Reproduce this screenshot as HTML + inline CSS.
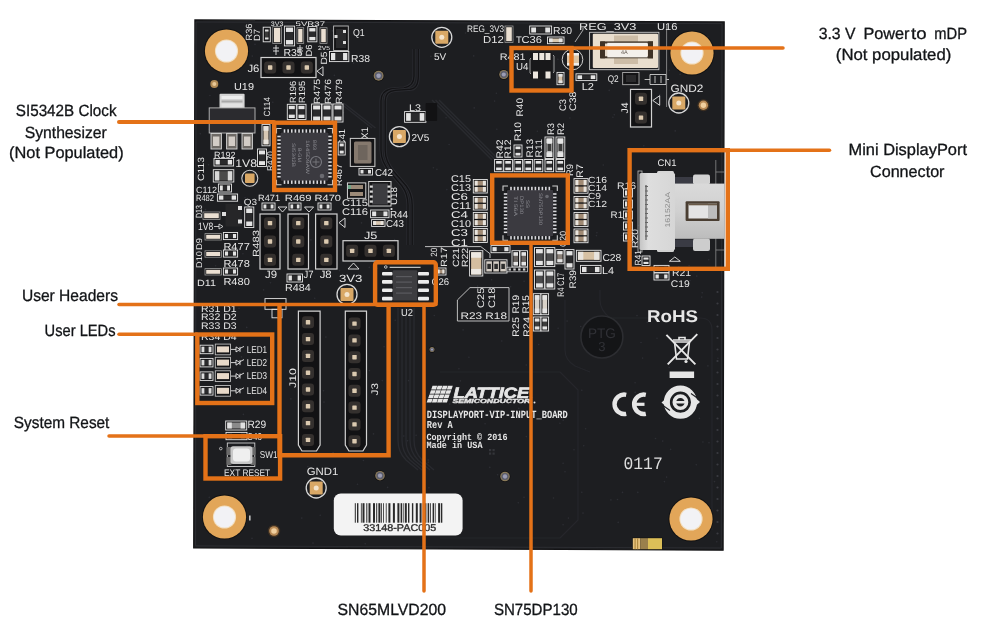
<!DOCTYPE html>
<html><head><meta charset="utf-8"><style>
html,body{margin:0;padding:0;background:#fff;width:987px;height:621px;overflow:hidden}
svg{display:block;will-change:transform} text{text-rendering:geometricPrecision}
</style></head><body>
<svg width="987" height="621" viewBox="0 0 987 621">
<rect width="987" height="621" fill="#ffffff"/>
<g id="board">
<path d="M194.9 19.9 L724.2 21.9 L723.1 550.2 L193.7 547.9 Z" fill="#1d1e21" stroke="#141416" stroke-width="1.2"/>
<path d="M196 22 L722 23.6 L721.3 548 L195.6 545.9 Z" fill="none" stroke="#303136" stroke-width="0.8"/>
<circle cx="434.3" cy="315.5" r="0.8" fill="#2d2e34"/>
<circle cx="678.7" cy="266.7" r="0.8" fill="#2d2e34"/>
<circle cx="463.1" cy="329.9" r="0.8" fill="#2d2e34"/>
<circle cx="295.7" cy="290.7" r="0.8" fill="#2d2e34"/>
<circle cx="526.3" cy="436.6" r="0.8" fill="#2d2e34"/>
<circle cx="248.8" cy="182.5" r="0.8" fill="#2d2e34"/>
<circle cx="247.0" cy="445.2" r="0.8" fill="#2d2e34"/>
<circle cx="559.2" cy="46.7" r="0.8" fill="#2d2e34"/>
<circle cx="708.8" cy="525.7" r="0.8" fill="#2d2e34"/>
<circle cx="538.7" cy="344.5" r="0.8" fill="#2d2e34"/>
<circle cx="281.6" cy="32.8" r="0.8" fill="#2d2e34"/>
<circle cx="473.7" cy="55.9" r="0.8" fill="#2d2e34"/>
<circle cx="298.5" cy="150.6" r="0.8" fill="#2d2e34"/>
<circle cx="215.6" cy="265.8" r="0.8" fill="#2d2e34"/>
<circle cx="428.2" cy="462.2" r="0.8" fill="#2d2e34"/>
<circle cx="468.9" cy="357.3" r="0.8" fill="#2d2e34"/>
<circle cx="458.9" cy="368.8" r="0.8" fill="#2d2e34"/>
<circle cx="436.9" cy="169.4" r="0.8" fill="#2d2e34"/>
<circle cx="716.8" cy="541.8" r="0.8" fill="#2d2e34"/>
<circle cx="635.2" cy="392.4" r="0.8" fill="#2d2e34"/>
<circle cx="363.3" cy="144.2" r="0.8" fill="#2d2e34"/>
<circle cx="349.7" cy="61.4" r="0.8" fill="#2d2e34"/>
<circle cx="596.9" cy="232.8" r="0.8" fill="#2d2e34"/>
<circle cx="638.5" cy="225.6" r="0.8" fill="#2d2e34"/>
<circle cx="696.3" cy="464.8" r="0.8" fill="#2d2e34"/>
<circle cx="200.3" cy="133.8" r="0.8" fill="#2d2e34"/>
<circle cx="671.5" cy="268.9" r="0.8" fill="#2d2e34"/>
<circle cx="707.8" cy="231.3" r="0.8" fill="#2d2e34"/>
<circle cx="237.8" cy="351.7" r="0.8" fill="#2d2e34"/>
<circle cx="603.3" cy="165.0" r="0.8" fill="#2d2e34"/>
<circle cx="245.1" cy="197.6" r="0.8" fill="#2d2e34"/>
<circle cx="699.4" cy="418.4" r="0.8" fill="#2d2e34"/>
<circle cx="261.1" cy="152.9" r="0.8" fill="#2d2e34"/>
<circle cx="252.3" cy="56.1" r="0.8" fill="#2d2e34"/>
<circle cx="612.9" cy="117.2" r="0.8" fill="#2d2e34"/>
<circle cx="489.7" cy="257.2" r="0.8" fill="#2d2e34"/>
<circle cx="298.8" cy="404.9" r="0.8" fill="#2d2e34"/>
<circle cx="267.8" cy="359.1" r="0.8" fill="#2d2e34"/>
<circle cx="260.4" cy="243.4" r="0.8" fill="#2d2e34"/>
<circle cx="310.3" cy="165.0" r="0.8" fill="#2d2e34"/>
<circle cx="702.9" cy="442.0" r="0.8" fill="#2d2e34"/>
<circle cx="357.5" cy="484.2" r="0.8" fill="#2d2e34"/>
<circle cx="309.1" cy="229.6" r="0.8" fill="#2d2e34"/>
<circle cx="642.6" cy="358.1" r="0.8" fill="#2d2e34"/>
<circle cx="252.0" cy="538.4" r="0.8" fill="#2d2e34"/>
<circle cx="310.5" cy="159.0" r="0.8" fill="#2d2e34"/>
<circle cx="600.3" cy="195.7" r="0.8" fill="#2d2e34"/>
<circle cx="353.5" cy="63.1" r="0.8" fill="#2d2e34"/>
<circle cx="246.7" cy="327.4" r="0.8" fill="#2d2e34"/>
<circle cx="325.9" cy="337.1" r="0.8" fill="#2d2e34"/>
<circle cx="392.5" cy="260.2" r="0.8" fill="#2d2e34"/>
<circle cx="696.8" cy="276.1" r="0.8" fill="#2d2e34"/>
<circle cx="497.6" cy="474.7" r="0.8" fill="#2d2e34"/>
<circle cx="294.7" cy="105.0" r="0.8" fill="#2d2e34"/>
<circle cx="670.6" cy="449.4" r="0.8" fill="#2d2e34"/>
<circle cx="329.2" cy="123.5" r="0.8" fill="#2d2e34"/>
<circle cx="583.0" cy="513.1" r="0.8" fill="#2d2e34"/>
<circle cx="301.8" cy="518.1" r="0.8" fill="#2d2e34"/>
<circle cx="657.0" cy="338.2" r="0.8" fill="#2d2e34"/>
<circle cx="418.3" cy="78.9" r="0.8" fill="#2d2e34"/>
<circle cx="220.0" cy="524.6" r="0.8" fill="#2d2e34"/>
<circle cx="323.5" cy="390.7" r="0.8" fill="#2d2e34"/>
<circle cx="333.1" cy="452.5" r="0.8" fill="#2d2e34"/>
<circle cx="509.0" cy="177.3" r="0.8" fill="#2d2e34"/>
<circle cx="290.9" cy="398.9" r="0.8" fill="#2d2e34"/>
<circle cx="235.6" cy="143.5" r="0.8" fill="#2d2e34"/>
<circle cx="489.8" cy="467.4" r="0.8" fill="#2d2e34"/>
<circle cx="518.2" cy="170.4" r="0.8" fill="#2d2e34"/>
<circle cx="675.2" cy="130.9" r="0.8" fill="#2d2e34"/>
<circle cx="208.6" cy="164.7" r="0.8" fill="#2d2e34"/>
<circle cx="430.9" cy="56.4" r="0.8" fill="#2d2e34"/>
<circle cx="291.3" cy="216.4" r="0.8" fill="#2d2e34"/>
<circle cx="496.4" cy="93.3" r="0.8" fill="#2d2e34"/>
<circle cx="387.6" cy="487.4" r="0.8" fill="#2d2e34"/>
<circle cx="707.9" cy="365.9" r="0.8" fill="#2d2e34"/>
<circle cx="558.1" cy="328.3" r="0.8" fill="#2d2e34"/>
<circle cx="272.7" cy="43.2" r="0.8" fill="#2d2e34"/>
<circle cx="209.3" cy="497.4" r="0.8" fill="#2d2e34"/>
<circle cx="563.1" cy="524.7" r="0.8" fill="#2d2e34"/>
<circle cx="211.0" cy="355.2" r="0.8" fill="#2d2e34"/>
<circle cx="449.8" cy="404.1" r="0.8" fill="#2d2e34"/>
<circle cx="365.2" cy="543.7" r="0.8" fill="#2d2e34"/>
<circle cx="239.0" cy="308.4" r="0.8" fill="#2d2e34"/>
<circle cx="581.8" cy="492.2" r="0.8" fill="#2d2e34"/>
<circle cx="581.8" cy="390.2" r="0.8" fill="#2d2e34"/>
<circle cx="610.9" cy="499.9" r="0.8" fill="#2d2e34"/>
<circle cx="382.3" cy="380.6" r="0.8" fill="#2d2e34"/>
<circle cx="666.6" cy="477.1" r="0.8" fill="#2d2e34"/>
<circle cx="416.1" cy="435.3" r="0.8" fill="#2d2e34"/>
<circle cx="647.3" cy="322.3" r="0.8" fill="#2d2e34"/>
<circle cx="523.7" cy="223.4" r="0.8" fill="#2d2e34"/>
<circle cx="501.8" cy="341.0" r="0.8" fill="#2d2e34"/>
<circle cx="241.5" cy="356.9" r="0.8" fill="#2d2e34"/>
<circle cx="714.5" cy="481.6" r="0.8" fill="#2d2e34"/>
<circle cx="577.2" cy="226.6" r="0.8" fill="#2d2e34"/>
<circle cx="580.7" cy="326.5" r="0.8" fill="#2d2e34"/>
<circle cx="428.2" cy="460.1" r="0.8" fill="#2d2e34"/>
<circle cx="243.4" cy="414.4" r="0.8" fill="#2d2e34"/>
<circle cx="215.4" cy="337.1" r="0.8" fill="#2d2e34"/>
<circle cx="449.1" cy="144.5" r="0.8" fill="#2d2e34"/>
<circle cx="561.7" cy="283.1" r="0.8" fill="#2d2e34"/>
<circle cx="518.3" cy="502.7" r="0.8" fill="#2d2e34"/>
<circle cx="332.5" cy="30.9" r="0.8" fill="#2d2e34"/>
<circle cx="355.9" cy="377.0" r="0.8" fill="#2d2e34"/>
<circle cx="304.9" cy="113.0" r="0.8" fill="#2d2e34"/>
<circle cx="669.2" cy="367.5" r="0.8" fill="#2d2e34"/>
<circle cx="428.9" cy="487.8" r="0.8" fill="#2d2e34"/>
<circle cx="369.4" cy="370.6" r="0.8" fill="#2d2e34"/>
<circle cx="302.8" cy="248.6" r="0.8" fill="#2d2e34"/>
<circle cx="617.5" cy="499.5" r="0.8" fill="#2d2e34"/>
<circle cx="656.0" cy="224.5" r="0.8" fill="#2d2e34"/>
<circle cx="502.0" cy="189.3" r="0.8" fill="#2d2e34"/>
<circle cx="270.5" cy="282.7" r="0.8" fill="#2d2e34"/>
<circle cx="633.6" cy="465.5" r="0.8" fill="#2d2e34"/>
<circle cx="568.4" cy="518.1" r="0.8" fill="#2d2e34"/>
<circle cx="343.4" cy="112.8" r="0.8" fill="#2d2e34"/>
<circle cx="433.4" cy="167.8" r="0.8" fill="#2d2e34"/>
<circle cx="310.9" cy="239.9" r="0.8" fill="#2d2e34"/>
<circle cx="524.1" cy="281.3" r="0.8" fill="#2d2e34"/>
<circle cx="363.4" cy="460.5" r="0.8" fill="#2d2e34"/>
<circle cx="708.7" cy="259.8" r="0.8" fill="#2d2e34"/>
<circle cx="238.7" cy="41.3" r="0.8" fill="#2d2e34"/>
<circle cx="652.1" cy="46.5" r="0.8" fill="#2d2e34"/>
<circle cx="567.1" cy="321.1" r="0.8" fill="#2d2e34"/>
<circle cx="360.1" cy="435.8" r="0.8" fill="#2d2e34"/>
<circle cx="209.9" cy="95.5" r="0.8" fill="#2d2e34"/>
<circle cx="435.6" cy="37.8" r="0.8" fill="#2d2e34"/>
<circle cx="629.8" cy="148.2" r="0.8" fill="#2d2e34"/>
<circle cx="273.0" cy="49.4" r="0.8" fill="#2d2e34"/>
<circle cx="525.9" cy="256.7" r="0.8" fill="#2d2e34"/>
<circle cx="526.3" cy="365.0" r="0.8" fill="#2d2e34"/>
<circle cx="618.2" cy="522.4" r="0.8" fill="#2d2e34"/>
<circle cx="554.6" cy="128.5" r="0.8" fill="#2d2e34"/>
<circle cx="446.1" cy="117.7" r="0.8" fill="#2d2e34"/>
<circle cx="205.6" cy="270.1" r="0.8" fill="#2d2e34"/>
<circle cx="569.9" cy="118.0" r="0.8" fill="#2d2e34"/>
<circle cx="341.1" cy="204.4" r="0.8" fill="#2d2e34"/>
<circle cx="561.2" cy="295.1" r="0.8" fill="#2d2e34"/>
<circle cx="518.3" cy="417.5" r="0.8" fill="#2d2e34"/>
<circle cx="403.8" cy="436.0" r="0.8" fill="#2d2e34"/>
<circle cx="669.4" cy="70.3" r="0.8" fill="#2d2e34"/>
<circle cx="683.1" cy="399.9" r="0.8" fill="#2d2e34"/>
<circle cx="267.3" cy="260.4" r="0.8" fill="#2d2e34"/>
<circle cx="524.0" cy="497.3" r="0.8" fill="#2d2e34"/>
<circle cx="395.2" cy="320.2" r="0.8" fill="#2d2e34"/>
<circle cx="655.5" cy="438.5" r="0.8" fill="#2d2e34"/>
<circle cx="689.1" cy="265.7" r="0.8" fill="#2d2e34"/>
<circle cx="537.4" cy="131.3" r="0.8" fill="#2d2e34"/>
<circle cx="574.0" cy="449.7" r="0.8" fill="#2d2e34"/>
<circle cx="532.4" cy="397.5" r="0.8" fill="#2d2e34"/>
<circle cx="310.5" cy="492.1" r="0.8" fill="#2d2e34"/>
<circle cx="707.9" cy="532.2" r="0.8" fill="#2d2e34"/>
<circle cx="478.1" cy="435.4" r="0.8" fill="#2d2e34"/>
<circle cx="366.0" cy="497.3" r="0.8" fill="#2d2e34"/>
<circle cx="643.3" cy="205.9" r="0.8" fill="#2d2e34"/>
<circle cx="242.9" cy="253.8" r="0.8" fill="#2d2e34"/>
<circle cx="485.1" cy="423.7" r="0.8" fill="#2d2e34"/>
<circle cx="452.5" cy="39.7" r="0.8" fill="#2d2e34"/>
<circle cx="619.1" cy="58.2" r="0.8" fill="#2d2e34"/>
<circle cx="614.3" cy="114.7" r="0.8" fill="#2d2e34"/>
<circle cx="373.5" cy="433.9" r="0.8" fill="#2d2e34"/>
<circle cx="272.8" cy="102.2" r="0.8" fill="#2d2e34"/>
<circle cx="467.6" cy="400.5" r="0.8" fill="#2d2e34"/>
<circle cx="635.1" cy="382.8" r="0.8" fill="#2d2e34"/>
<circle cx="689.9" cy="280.6" r="0.8" fill="#2d2e34"/>
<circle cx="691.7" cy="69.6" r="0.8" fill="#2d2e34"/>
<circle cx="314.7" cy="298.3" r="0.8" fill="#2d2e34"/>
<circle cx="350.3" cy="403.3" r="0.8" fill="#2d2e34"/>
<circle cx="530.9" cy="296.3" r="0.8" fill="#2d2e34"/>
<circle cx="637.0" cy="315.6" r="0.8" fill="#2d2e34"/>
<circle cx="361.5" cy="222.9" r="0.8" fill="#2d2e34"/>
<circle cx="637.8" cy="492.4" r="0.8" fill="#2d2e34"/>
<circle cx="307.9" cy="466.6" r="0.8" fill="#2d2e34"/>
<circle cx="701.7" cy="297.1" r="0.8" fill="#2d2e34"/>
<circle cx="496.8" cy="129.3" r="0.8" fill="#2d2e34"/>
<circle cx="477.6" cy="286.1" r="0.8" fill="#2d2e34"/>
<circle cx="513.5" cy="39.4" r="0.8" fill="#2d2e34"/>
<circle cx="702.2" cy="292.8" r="0.8" fill="#2d2e34"/>
<circle cx="407.5" cy="440.8" r="0.8" fill="#2d2e34"/>
<circle cx="491.6" cy="279.8" r="0.8" fill="#2d2e34"/>
<circle cx="557.9" cy="59.2" r="0.8" fill="#2d2e34"/>
<circle cx="479.1" cy="239.7" r="0.8" fill="#2d2e34"/>
<circle cx="695.7" cy="504.3" r="0.8" fill="#2d2e34"/>
<circle cx="339.5" cy="270.6" r="0.8" fill="#2d2e34"/>
<circle cx="265.8" cy="250.1" r="0.8" fill="#2d2e34"/>
<circle cx="622.5" cy="492.4" r="0.8" fill="#2d2e34"/>
<circle cx="446.8" cy="189.6" r="0.8" fill="#2d2e34"/>
<circle cx="299.2" cy="345.7" r="0.8" fill="#2d2e34"/>
<circle cx="679.3" cy="92.2" r="0.8" fill="#2d2e34"/>
<circle cx="603.7" cy="36.8" r="0.8" fill="#2d2e34"/>
<circle cx="300.5" cy="142.9" r="0.8" fill="#2d2e34"/>
<circle cx="555.9" cy="192.2" r="0.8" fill="#2d2e34"/>
<circle cx="384.1" cy="346.7" r="0.8" fill="#2d2e34"/>
<circle cx="254.3" cy="404.3" r="0.8" fill="#2d2e34"/>
<circle cx="263.6" cy="289.9" r="0.8" fill="#2d2e34"/>
<circle cx="329.8" cy="127.6" r="0.8" fill="#2d2e34"/>
<circle cx="474.7" cy="251.7" r="0.8" fill="#2d2e34"/>
<circle cx="394.6" cy="239.6" r="0.8" fill="#2d2e34"/>
<circle cx="474.2" cy="107.9" r="0.8" fill="#2d2e34"/>
<circle cx="305.8" cy="352.7" r="0.8" fill="#2d2e34"/>
<circle cx="530.7" cy="299.9" r="0.8" fill="#2d2e34"/>
<circle cx="641.0" cy="342.5" r="0.8" fill="#2d2e34"/>
<circle cx="643.8" cy="145.7" r="0.8" fill="#2d2e34"/>
<circle cx="583.7" cy="445.7" r="0.8" fill="#2d2e34"/>
<circle cx="667.6" cy="188.9" r="0.8" fill="#2d2e34"/>
<circle cx="363.2" cy="503.9" r="0.8" fill="#2d2e34"/>
<circle cx="313.0" cy="543.1" r="0.8" fill="#2d2e34"/>
<circle cx="659.7" cy="94.5" r="0.8" fill="#2d2e34"/>
<circle cx="324.0" cy="402.1" r="0.8" fill="#2d2e34"/>
<circle cx="334.4" cy="75.4" r="0.8" fill="#2d2e34"/>
<circle cx="631.1" cy="243.8" r="0.8" fill="#2d2e34"/>
<circle cx="609.2" cy="90.4" r="0.8" fill="#2d2e34"/>
<circle cx="408.6" cy="380.6" r="0.8" fill="#2d2e34"/>
<circle cx="209.2" cy="129.3" r="0.8" fill="#2d2e34"/>
<circle cx="553.5" cy="498.0" r="0.8" fill="#2d2e34"/>
<circle cx="701.6" cy="84.9" r="0.8" fill="#2d2e34"/>
<circle cx="461.9" cy="418.5" r="0.8" fill="#2d2e34"/>
<circle cx="460.4" cy="380.9" r="0.8" fill="#2d2e34"/>
<circle cx="297.9" cy="61.6" r="0.8" fill="#2d2e34"/>
<circle cx="255.0" cy="44.4" r="0.8" fill="#2d2e34"/>
<circle cx="485.8" cy="292.2" r="0.8" fill="#2d2e34"/>
<circle cx="494.6" cy="101.1" r="0.8" fill="#2d2e34"/>
<circle cx="295.6" cy="130.8" r="0.8" fill="#2d2e34"/>
<circle cx="635.2" cy="539.0" r="0.8" fill="#2d2e34"/>
<circle cx="680.1" cy="74.4" r="0.8" fill="#2d2e34"/>
<circle cx="232.1" cy="518.8" r="0.8" fill="#2d2e34"/>
<circle cx="439.4" cy="421.9" r="0.8" fill="#2d2e34"/>
<circle cx="369.3" cy="267.4" r="0.8" fill="#2d2e34"/>
<circle cx="466.9" cy="248.2" r="0.8" fill="#2d2e34"/>
<circle cx="511.3" cy="31.9" r="0.8" fill="#2d2e34"/>
<circle cx="563.1" cy="463.2" r="0.8" fill="#2d2e34"/>
<circle cx="293.9" cy="260.6" r="0.8" fill="#2d2e34"/>
<circle cx="583.0" cy="235.4" r="0.8" fill="#2d2e34"/>
<circle cx="301.1" cy="110.7" r="0.8" fill="#2d2e34"/>
<circle cx="465.5" cy="33.0" r="0.8" fill="#2d2e34"/>
<circle cx="662.7" cy="441.1" r="0.8" fill="#2d2e34"/>
<circle cx="565.0" cy="471.7" r="0.8" fill="#2d2e34"/>
<circle cx="526.0" cy="234.9" r="0.8" fill="#2d2e34"/>
<circle cx="510.6" cy="286.7" r="0.8" fill="#2d2e34"/>
<circle cx="709.0" cy="442.7" r="0.8" fill="#2d2e34"/>
<circle cx="333.8" cy="498.0" r="0.8" fill="#2d2e34"/>
<circle cx="585.6" cy="428.8" r="0.8" fill="#2d2e34"/>
<circle cx="622.0" cy="235.5" r="0.8" fill="#2d2e34"/>
<circle cx="664.4" cy="481.6" r="0.8" fill="#2d2e34"/>
<circle cx="559.9" cy="423.2" r="0.8" fill="#2d2e34"/>
<circle cx="596.4" cy="235.6" r="0.8" fill="#2d2e34"/>
<circle cx="574.3" cy="61.6" r="0.8" fill="#2d2e34"/>
<circle cx="377.0" cy="268.3" r="0.8" fill="#2d2e34"/>
<circle cx="205.5" cy="209.6" r="0.8" fill="#2d2e34"/>
<circle cx="530.9" cy="348.9" r="0.8" fill="#2d2e34"/>
<circle cx="320.2" cy="515.3" r="0.8" fill="#2d2e34"/>
<circle cx="545.0" cy="200.3" r="0.8" fill="#2d2e34"/>
<circle cx="541.8" cy="320.6" r="0.8" fill="#2d2e34"/>
<circle cx="476.1" cy="227.2" r="0.8" fill="#2d2e34"/>
<circle cx="717.9" cy="358.3" r="0.8" fill="#2d2e34"/>
<circle cx="563.2" cy="420.3" r="0.8" fill="#2d2e34"/>
<circle cx="707.7" cy="36.8" r="0.8" fill="#2d2e34"/>
<circle cx="518.8" cy="408.4" r="0.8" fill="#2d2e34"/>
<circle cx="332.9" cy="233.4" r="0.8" fill="#2d2e34"/>
<circle cx="226.1" cy="126.4" r="0.8" fill="#2d2e34"/>
<path d="M414 49 L414 76 Q414 86 404 88.0 L391 89.0 Q381 91 381 101 L381 150 Q381 162 390 172 L402 186 Q408 194 408 205 L408 245" fill="none" stroke="#2a2b30" stroke-width="3.2" stroke-linejoin="round"/>
<path d="M414 49 L414 76 Q414 86 404 88.0 L391 89.0 Q381 91 381 101 L381 150 Q381 162 390 172 L402 186 Q408 194 408 205 L408 245" fill="none" stroke="#131315" stroke-width="1.3" stroke-linejoin="round"/>
<path d="M418.3 49 L418.3 76 Q418.3 90.30000000000001 408.3 89.29 L395.2 90.29 Q385.2 91 385.2 101 L385.2 150 Q385.2 162 394.2 172 L406.2 186 Q412.2 194 412.2 205 L412.2 245" fill="none" stroke="#2a2b30" stroke-width="3.2" stroke-linejoin="round"/>
<path d="M418.3 49 L418.3 76 Q418.3 90.30000000000001 408.3 89.29 L395.2 90.29 Q385.2 91 385.2 101 L385.2 150 Q385.2 162 394.2 172 L406.2 186 Q412.2 194 412.2 205 L412.2 245" fill="none" stroke="#131315" stroke-width="1.3" stroke-linejoin="round"/>
<path d="M432 100 L492 160" fill="none" stroke="#292a2f" stroke-width="1.4" stroke-linejoin="round"/>
<path d="M435.5 100 L495.5 160" fill="none" stroke="#292a2f" stroke-width="1.4" stroke-linejoin="round"/>
<path d="M439 100 L499 160" fill="none" stroke="#292a2f" stroke-width="1.4" stroke-linejoin="round"/>
<path d="M340 103 L372 128" fill="none" stroke="#292a2f" stroke-width="1.4" stroke-linejoin="round"/>
<path d="M343.5 103 L375.5 128" fill="none" stroke="#292a2f" stroke-width="1.4" stroke-linejoin="round"/>
<path d="M398 308 L398 440 Q398 452 406 460 L418 470" fill="none" stroke="#292a2f" stroke-width="1.4" stroke-linejoin="round"/>
<path d="M402 308 L402 440 Q402 452 410 460 L422 470" fill="none" stroke="#292a2f" stroke-width="1.4" stroke-linejoin="round"/>
<path d="M406 308 L406 440 Q406 452 414 460 L426 470" fill="none" stroke="#292a2f" stroke-width="1.4" stroke-linejoin="round"/>
<path d="M410 308 L410 440 Q410 452 418 460 L430 470" fill="none" stroke="#292a2f" stroke-width="1.4" stroke-linejoin="round"/>
<path d="M414 308 L414 440 Q414 452 422 460 L434 470" fill="none" stroke="#292a2f" stroke-width="1.4" stroke-linejoin="round"/>
<path d="M440 372 L560 372 L578 390 L578 520 L560 538 L440 538" fill="none" stroke="#25262b" stroke-width="1.2" stroke-linejoin="round"/>
<path d="M600 290 L600 300 Q600 310 610 318 L700 318 Q712 318 712 330 L712 530" fill="none" stroke="#25262b" stroke-width="1.2" stroke-linejoin="round"/>
<path d="M565 300 L565 350 Q565 360 575 366 L590 372" fill="none" stroke="#25262b" stroke-width="1.2" stroke-linejoin="round"/>
</g>
<circle cx="226.5" cy="51" r="22.6" fill="#121213"/>
<circle cx="226.5" cy="51" r="21.6" fill="#e2a659"/>
<circle cx="226.5" cy="51" r="11.6" fill="#f3dfc0"/>
<circle cx="226.5" cy="51" r="10.6" fill="#f2f2f5"/>
<circle cx="692" cy="53" r="22.6" fill="#121213"/>
<circle cx="692" cy="53" r="21.6" fill="#e2a659"/>
<circle cx="692" cy="53" r="11.6" fill="#f3dfc0"/>
<circle cx="692" cy="53" r="10.6" fill="#f2f2f5"/>
<circle cx="224.5" cy="517" r="22.6" fill="#121213"/>
<circle cx="224.5" cy="517" r="21.6" fill="#e2a659"/>
<circle cx="224.5" cy="517" r="11.6" fill="#f3dfc0"/>
<circle cx="224.5" cy="517" r="10.6" fill="#f2f2f5"/>
<circle cx="691" cy="519" r="22.6" fill="#121213"/>
<circle cx="691" cy="519" r="21.6" fill="#e2a659"/>
<circle cx="691" cy="519" r="11.6" fill="#f3dfc0"/>
<circle cx="691" cy="519" r="10.6" fill="#f2f2f5"/>
<rect x="263.2" y="27.2" width="7.1" height="14.6" fill="#161618" stroke="#e6e6e6" stroke-width="0.9"/>
<rect x="265" y="30" width="3.5" height="9" fill="#3a3a3a"/>
<rect x="265" y="29.5" width="3.5" height="2" fill="#ddd"/>
<rect x="265" y="37.5" width="3.5" height="2" fill="#ddd"/>
<rect x="272.8" y="26.6" width="8.6" height="16.8" fill="#161618" stroke="#9a9a9a" stroke-width="0.8"/>
<rect x="274.0" y="27.8" width="6.199999999999999" height="14.4" fill="#eadfd2"/>
<rect x="284.4" y="26.1" width="10.2" height="19.8" fill="#161618" stroke="#e6e6e6" stroke-width="0.9"/>
<rect x="285.9" y="27.6" width="7.199999999999999" height="16.8" fill="#2a2a2c"/>
<rect x="285.9" y="27.6" width="7.199999999999999" height="4.356" fill="#e4e4e4"/>
<rect x="285.9" y="40.044000000000004" width="7.199999999999999" height="4.356" fill="#e4e4e4"/>
<rect x="297" y="27.7" width="6.7" height="15.7" fill="#161618" stroke="#9a9a9a" stroke-width="0.8"/>
<rect x="298.2" y="28.9" width="4.300000000000001" height="13.299999999999999" fill="#eadfd2"/>
<rect x="307.8" y="26.6" width="9.1" height="15.2" fill="#161618" stroke="#e6e6e6" stroke-width="0.9"/>
<rect x="309.3" y="28.1" width="6.1" height="12.2" fill="#2a2a2c"/>
<rect x="309.3" y="28.1" width="6.1" height="3.344" fill="#e4e4e4"/>
<rect x="309.3" y="36.955999999999996" width="6.1" height="3.344" fill="#e4e4e4"/>
<rect x="320" y="27.7" width="7" height="15.7" fill="#161618" stroke="#9a9a9a" stroke-width="0.8"/>
<rect x="321.2" y="28.9" width="4.6" height="13.299999999999999" fill="#eadfd2"/>
<text x="270.8" y="26.3" font-family="Liberation Sans" font-size="6.5" fill="#e6e6e6" textLength="12.6" lengthAdjust="spacingAndGlyphs">3V3</text>
<text x="295.6" y="26.3" font-family="Liberation Sans" font-size="6.5" fill="#e6e6e6" textLength="29.4" lengthAdjust="spacingAndGlyphs">5VR37</text>
<text x="318" y="49.5" font-family="Liberation Sans" font-size="6" fill="#e6e6e6" textLength="12" lengthAdjust="spacingAndGlyphs">2V5</text>
<text x="252.4" y="40.5" font-family="Liberation Sans" font-size="8.96" fill="#e6e6e6" textLength="17" lengthAdjust="spacingAndGlyphs" transform="rotate(-90 252.4 40.5)">R36</text>
<text x="259.5" y="41" font-family="Liberation Sans" font-size="8.96" fill="#e6e6e6" textLength="12" lengthAdjust="spacingAndGlyphs" transform="rotate(-90 259.5 41)">D7</text>
<text x="283.4" y="55.5" font-family="Liberation Sans" font-size="10.08" fill="#e6e6e6" textLength="19.3" lengthAdjust="spacingAndGlyphs">R35</text>
<text x="312" y="56.5" font-family="Liberation Sans" font-size="8.96" fill="#e6e6e6" textLength="12" lengthAdjust="spacingAndGlyphs" transform="rotate(-90 312 56.5)">D6</text>
<text x="326.6" y="64.6" font-family="Liberation Sans" font-size="8.96" fill="#e6e6e6" textLength="13" lengthAdjust="spacingAndGlyphs" transform="rotate(-90 326.6 64.6)">D5</text>
<path d="M273 48 L279 48 M276 45 L276 55 M273 51 L279 51" fill="none" stroke="#e6e6e6" stroke-width="0.9"/>
<path d="M297 48 L303 48 M300 45 L300 55 M297 51 L303 51" fill="none" stroke="#e6e6e6" stroke-width="0.9"/>
<rect x="333.6" y="26" width="14.7" height="24.5" fill="#141416" stroke="#bdbdbd" stroke-width="0.9"/>
<rect x="336" y="29" width="10" height="19" fill="#2a2a2c"/>
<rect x="343" y="30" width="3" height="3" fill="#ddd"/>
<rect x="343" y="41" width="3" height="3" fill="#ddd"/>
<rect x="334.5" y="35" width="3" height="3" fill="#ddd"/>
<text x="353" y="35.6" font-family="Liberation Sans" font-size="10.08" fill="#e6e6e6" textLength="11.7" lengthAdjust="spacingAndGlyphs">Q1</text>
<rect x="329.5" y="51.5" width="19.3" height="10.1" fill="#161618" stroke="#e6e6e6" stroke-width="0.9"/>
<rect x="331.0" y="53.0" width="16.3" height="7.1" fill="#2a2a2c"/>
<rect x="331.0" y="53.0" width="4.246" height="7.1" fill="#e4e4e4"/>
<rect x="343.05400000000003" y="53.0" width="4.246" height="7.1" fill="#e4e4e4"/>
<text x="351" y="61.5" font-family="Liberation Sans" font-size="10.08" fill="#e6e6e6" textLength="19" lengthAdjust="spacingAndGlyphs">R38</text>
<text x="247.4" y="71.7" font-family="Liberation Sans" font-size="10.64" fill="#e6e6e6" textLength="12" lengthAdjust="spacingAndGlyphs">J6</text>
<path d="M323 66.7 L323 75.8 L317 71.2 Z" fill="none" stroke="#e6e6e6" stroke-width="0.9"/>
<text x="234" y="90.2" font-family="Liberation Sans" font-size="10.08" fill="#e6e6e6" textLength="20" lengthAdjust="spacingAndGlyphs">U19</text>
<circle cx="214.3" cy="84" r="4" fill="#b08a55"/>
<circle cx="214.3" cy="84" r="2" fill="#e8c896"/>
<text x="295.5" y="103" font-family="Liberation Sans" font-size="8.96" fill="#e6e6e6" textLength="22" lengthAdjust="spacingAndGlyphs" transform="rotate(-90 295.5 103)">R196</text>
<text x="305" y="103" font-family="Liberation Sans" font-size="8.96" fill="#e6e6e6" textLength="22" lengthAdjust="spacingAndGlyphs" transform="rotate(-90 305 103)">R195</text>
<text x="320" y="104" font-family="Liberation Sans" font-size="8.96" fill="#e6e6e6" textLength="25" lengthAdjust="spacingAndGlyphs" transform="rotate(-90 320 104)">R475</text>
<text x="331" y="104" font-family="Liberation Sans" font-size="8.96" fill="#e6e6e6" textLength="25" lengthAdjust="spacingAndGlyphs" transform="rotate(-90 331 104)">R476</text>
<text x="342" y="104" font-family="Liberation Sans" font-size="8.96" fill="#e6e6e6" textLength="25" lengthAdjust="spacingAndGlyphs" transform="rotate(-90 342 104)">R479</text>
<rect x="287.3" y="104.3" width="9" height="15.2" fill="#161618" stroke="#e6e6e6" stroke-width="0.9"/>
<rect x="288.8" y="105.8" width="6" height="12.2" fill="#2a2a2c"/>
<rect x="288.8" y="105.8" width="6" height="3.344" fill="#e4e4e4"/>
<rect x="288.8" y="114.656" width="6" height="3.344" fill="#e4e4e4"/>
<rect x="297" y="104.3" width="9" height="15.2" fill="#161618" stroke="#e6e6e6" stroke-width="0.9"/>
<rect x="298.5" y="105.8" width="6" height="12.2" fill="#2a2a2c"/>
<rect x="298.5" y="105.8" width="6" height="3.344" fill="#e4e4e4"/>
<rect x="298.5" y="114.656" width="6" height="3.344" fill="#e4e4e4"/>
<rect x="311.6" y="104" width="10" height="18" fill="#161618" stroke="#e6e6e6" stroke-width="0.9"/>
<rect x="313.1" y="105.5" width="7" height="15" fill="#2a2a2c"/>
<rect x="313.1" y="105.5" width="7" height="3.96" fill="#e4e4e4"/>
<rect x="313.1" y="116.54" width="7" height="3.96" fill="#e4e4e4"/>
<rect x="322" y="104" width="10" height="18" fill="#161618" stroke="#e6e6e6" stroke-width="0.9"/>
<rect x="323.5" y="105.5" width="7" height="15" fill="#2a2a2c"/>
<rect x="323.5" y="105.5" width="7" height="3.96" fill="#e4e4e4"/>
<rect x="323.5" y="116.54" width="7" height="3.96" fill="#e4e4e4"/>
<rect x="333" y="104" width="10" height="18" fill="#161618" stroke="#e6e6e6" stroke-width="0.9"/>
<rect x="334.5" y="105.5" width="7" height="15" fill="#2a2a2c"/>
<rect x="334.5" y="105.5" width="7" height="3.96" fill="#e4e4e4"/>
<rect x="334.5" y="116.54" width="7" height="3.96" fill="#e4e4e4"/>
<text x="270" y="116.5" font-family="Liberation Sans" font-size="8.96" fill="#e6e6e6" textLength="19.5" lengthAdjust="spacingAndGlyphs" transform="rotate(-90 270 116.5)">C114</text>
<rect x="262" y="124.6" width="8" height="21.2" fill="#161618" stroke="#e6e6e6" stroke-width="0.9"/>
<rect x="263.5" y="126.1" width="5" height="18.2" fill="#d8c8b4"/>
<rect x="263.5" y="126.1" width="5" height="4.664" fill="#e8e4de"/>
<rect x="263.5" y="139.636" width="5" height="4.664" fill="#e8e4de"/>
<text x="214" y="158.3" font-family="Liberation Sans" font-size="8.96" fill="#e6e6e6" textLength="21.6" lengthAdjust="spacingAndGlyphs">R192</text>
<rect x="214" y="158.4" width="19.6" height="7.6" fill="#161618" stroke="#e6e6e6" stroke-width="0.9"/>
<rect x="215.5" y="159.9" width="16.6" height="4.6" fill="#2a2a2c"/>
<rect x="215.5" y="159.9" width="4.312" height="4.6" fill="#e4e4e4"/>
<rect x="227.78799999999998" y="159.9" width="4.312" height="4.6" fill="#e4e4e4"/>
<text x="235.2" y="167" font-family="Liberation Sans" font-size="11" fill="#e6e6e6" textLength="21.8" lengthAdjust="spacingAndGlyphs">1V8</text>
<text x="204" y="181" font-family="Liberation Sans" font-size="8.96" fill="#e6e6e6" textLength="24" lengthAdjust="spacingAndGlyphs" transform="rotate(-90 204 181)">C113</text>
<rect x="213.3" y="169.7" width="20.5" height="12.3" fill="#161618" stroke="#e6e6e6" stroke-width="0.9"/>
<rect x="214.8" y="171.2" width="17.5" height="9.3" fill="#4a4a4a"/>
<rect x="214.8" y="171.2" width="4.51" height="9.3" fill="#d8d8d8"/>
<rect x="227.79000000000002" y="171.2" width="4.51" height="9.3" fill="#d8d8d8"/>
<circle cx="249.8" cy="178.3" r="8" fill="none" stroke="#cfcfcf" stroke-width="1.1"/>
<rect x="245" y="173.5" width="9.6" height="9.6" fill="#d9a866" rx="1"/>
<text x="196" y="192.5" font-family="Liberation Sans" font-size="8.96" fill="#e6e6e6" textLength="21" lengthAdjust="spacingAndGlyphs">C112</text>
<rect x="218.4" y="184" width="13.1" height="8" fill="#161618" stroke="#e6e6e6" stroke-width="0.9"/>
<rect x="219.9" y="185.5" width="10.1" height="5" fill="#2a2a2c"/>
<rect x="219.9" y="185.5" width="2.882" height="5" fill="#e4e4e4"/>
<rect x="227.118" y="185.5" width="2.882" height="5" fill="#e4e4e4"/>
<text x="196" y="200.5" font-family="Liberation Sans" font-size="8.96" fill="#e6e6e6" textLength="18" lengthAdjust="spacingAndGlyphs">R482</text>
<rect x="217.4" y="194" width="20.2" height="7.2" fill="#161618" stroke="#e6e6e6" stroke-width="0.9"/>
<rect x="218.9" y="195.5" width="17.2" height="4.2" fill="#2a2a2c"/>
<rect x="218.9" y="195.5" width="4.444" height="4.2" fill="#e4e4e4"/>
<rect x="231.656" y="195.5" width="4.444" height="4.2" fill="#e4e4e4"/>
<text x="345" y="146" font-family="Liberation Sans" font-size="8.96" fill="#e6e6e6" textLength="17" lengthAdjust="spacingAndGlyphs" transform="rotate(-90 345 146)">C41</text>
<rect x="338.2" y="142" width="7" height="13" fill="#161618" stroke="#e6e6e6" stroke-width="0.9"/>
<rect x="339.7" y="143.5" width="4" height="10" fill="#2a2a2c"/>
<rect x="339.7" y="143.5" width="4" height="2.86" fill="#e4e4e4"/>
<rect x="339.7" y="150.64" width="4" height="2.86" fill="#e4e4e4"/>
<text x="342" y="186" font-family="Liberation Sans" font-size="8.96" fill="#e6e6e6" textLength="22" lengthAdjust="spacingAndGlyphs" transform="rotate(-90 342 186)">R467</text>
<text x="243.7" y="205" font-family="Liberation Sans" font-size="8.96" fill="#e6e6e6" textLength="13.3" lengthAdjust="spacingAndGlyphs">Q3</text>
<rect x="225.5" y="204" width="16.2" height="22.5" fill="#262628"/>
<rect x="238" y="206" width="4" height="4" fill="#ddd"/>
<rect x="238" y="219.5" width="4" height="4" fill="#ddd"/>
<rect x="222" y="212" width="4" height="4" fill="#ddd"/>
<rect x="244.7" y="207" width="9.1" height="20.5" fill="#161618" stroke="#e6e6e6" stroke-width="0.9"/>
<rect x="246.2" y="208.5" width="6.1" height="17.5" fill="#2a2a2c"/>
<rect x="246.2" y="208.5" width="6.1" height="4.51" fill="#e4e4e4"/>
<rect x="246.2" y="221.49" width="6.1" height="4.51" fill="#e4e4e4"/>
<text x="258" y="201" font-family="Liberation Sans" font-size="8.96" fill="#e6e6e6" textLength="22" lengthAdjust="spacingAndGlyphs">R471</text>
<text x="284.8" y="201" font-family="Liberation Sans" font-size="8.96" fill="#e6e6e6" textLength="26.8" lengthAdjust="spacingAndGlyphs">R469</text>
<text x="314.6" y="201" font-family="Liberation Sans" font-size="8.96" fill="#e6e6e6" textLength="26.4" lengthAdjust="spacingAndGlyphs">R470</text>
<rect x="262" y="203" width="13" height="7" fill="#161618" stroke="#e6e6e6" stroke-width="0.9"/>
<rect x="263.5" y="204.5" width="10" height="4" fill="#2a2a2c"/>
<rect x="263.5" y="204.5" width="2.86" height="4" fill="#e4e4e4"/>
<rect x="270.64" y="204.5" width="2.86" height="4" fill="#e4e4e4"/>
<rect x="289" y="203" width="12" height="7" fill="#161618" stroke="#e6e6e6" stroke-width="0.9"/>
<rect x="290.5" y="204.5" width="9" height="4" fill="#2a2a2c"/>
<rect x="290.5" y="204.5" width="2.64" height="4" fill="#e4e4e4"/>
<rect x="296.86" y="204.5" width="2.64" height="4" fill="#e4e4e4"/>
<rect x="318" y="203" width="13" height="7" fill="#161618" stroke="#e6e6e6" stroke-width="0.9"/>
<rect x="319.5" y="204.5" width="10" height="4" fill="#2a2a2c"/>
<rect x="319.5" y="204.5" width="2.86" height="4" fill="#e4e4e4"/>
<rect x="326.64" y="204.5" width="2.86" height="4" fill="#e4e4e4"/>
<path d="M278 207 L287 207 L282.5 212 Z" fill="none" stroke="#e6e6e6" stroke-width="0.9"/>
<path d="M304.5 207 L313.6 207 L309 212 Z" fill="none" stroke="#e6e6e6" stroke-width="0.9"/>
<path d="M345 218 L345 227.5 L339 222.7 Z" fill="none" stroke="#e6e6e6" stroke-width="0.9"/>
<rect x="347.4" y="182.9" width="18.4" height="15.4" fill="#161618" stroke="#e6e6e6" stroke-width="0.9"/>
<rect x="350" y="185" width="13" height="4" fill="#9c8a78"/>
<rect x="350" y="192" width="13" height="4" fill="#9c8a78"/>
<rect x="347.9" y="185" width="3" height="4" fill="#6fa88a"/>
<text x="202" y="218" font-family="Liberation Sans" font-size="8.96" fill="#e6e6e6" textLength="13" lengthAdjust="spacingAndGlyphs" transform="rotate(-90 202 218)">D13</text>
<rect x="203" y="212" width="17" height="7.4" fill="#161618" stroke="#9a9a9a" stroke-width="0.8"/>
<rect x="204.2" y="213.2" width="14.6" height="5.0" fill="#eadfd2"/>
<text x="198" y="230" font-family="Liberation Sans" font-size="10.64" fill="#e6e6e6" textLength="15.3" lengthAdjust="spacingAndGlyphs">1V8</text>
<path d="M214 226.5 L219 226.5 M219 224 L219 229 L223 226.5 Z" fill="none" stroke="#e6e6e6" stroke-width="0.8"/>
<text x="202" y="250" font-family="Liberation Sans" font-size="8.4" fill="#e6e6e6" textLength="12" lengthAdjust="spacingAndGlyphs" transform="rotate(-90 202 250)">D9</text>
<text x="202" y="268" font-family="Liberation Sans" font-size="8.4" fill="#e6e6e6" textLength="17" lengthAdjust="spacingAndGlyphs" transform="rotate(-90 202 268)">D10</text>
<rect x="205" y="233.6" width="16.4" height="6.4" fill="#161618" stroke="#9a9a9a" stroke-width="0.8"/>
<rect x="206.2" y="234.79999999999998" width="13.999999999999998" height="4.0" fill="#eadfd2"/>
<rect x="205" y="250.8" width="16.4" height="6.4" fill="#161618" stroke="#9a9a9a" stroke-width="0.8"/>
<rect x="206.2" y="252.0" width="13.999999999999998" height="4.0" fill="#eadfd2"/>
<rect x="205" y="268.6" width="16.4" height="6.4" fill="#161618" stroke="#9a9a9a" stroke-width="0.8"/>
<rect x="206.2" y="269.8" width="13.999999999999998" height="4.0" fill="#eadfd2"/>
<rect x="223.4" y="232.5" width="14.2" height="7.1" fill="#161618" stroke="#e6e6e6" stroke-width="0.9"/>
<rect x="224.9" y="234.0" width="11.2" height="4.1" fill="#2a2a2c"/>
<rect x="224.9" y="234.0" width="3.1239999999999997" height="4.1" fill="#e4e4e4"/>
<rect x="232.976" y="234.0" width="3.1239999999999997" height="4.1" fill="#e4e4e4"/>
<rect x="223.4" y="250" width="14.2" height="7.1" fill="#161618" stroke="#e6e6e6" stroke-width="0.9"/>
<rect x="224.9" y="251.5" width="11.2" height="4.1" fill="#2a2a2c"/>
<rect x="224.9" y="251.5" width="3.1239999999999997" height="4.1" fill="#e4e4e4"/>
<rect x="232.976" y="251.5" width="3.1239999999999997" height="4.1" fill="#e4e4e4"/>
<rect x="223.4" y="268" width="14.2" height="7.1" fill="#161618" stroke="#e6e6e6" stroke-width="0.9"/>
<rect x="224.9" y="269.5" width="11.2" height="4.1" fill="#2a2a2c"/>
<rect x="224.9" y="269.5" width="3.1239999999999997" height="4.1" fill="#e4e4e4"/>
<rect x="232.976" y="269.5" width="3.1239999999999997" height="4.1" fill="#e4e4e4"/>
<text x="223.4" y="249.8" font-family="Liberation Sans" font-size="10.08" fill="#e6e6e6" textLength="26.4" lengthAdjust="spacingAndGlyphs">R477</text>
<text x="223.4" y="267" font-family="Liberation Sans" font-size="10.08" fill="#e6e6e6" textLength="26.4" lengthAdjust="spacingAndGlyphs">R478</text>
<text x="223.4" y="285" font-family="Liberation Sans" font-size="10.08" fill="#e6e6e6" textLength="26.4" lengthAdjust="spacingAndGlyphs">R480</text>
<text x="197" y="286" font-family="Liberation Sans" font-size="8.96" fill="#e6e6e6" textLength="19" lengthAdjust="spacingAndGlyphs">D11</text>
<text x="259" y="257" font-family="Liberation Sans" font-size="8.96" fill="#e6e6e6" textLength="27" lengthAdjust="spacingAndGlyphs" transform="rotate(-90 259 257)">R483</text>
<text x="265" y="278" font-family="Liberation Sans" font-size="10.64" fill="#e6e6e6" textLength="12" lengthAdjust="spacingAndGlyphs">J9</text>
<text x="303.5" y="278" font-family="Liberation Sans" font-size="10.64" fill="#e6e6e6" textLength="10" lengthAdjust="spacingAndGlyphs">J7</text>
<text x="319.7" y="278" font-family="Liberation Sans" font-size="10.64" fill="#e6e6e6" textLength="12" lengthAdjust="spacingAndGlyphs">J8</text>
<rect x="287" y="274" width="15.5" height="8" fill="#161618" stroke="#e6e6e6" stroke-width="0.9"/>
<rect x="288.5" y="275.5" width="12.5" height="5" fill="#2a2a2c"/>
<rect x="288.5" y="275.5" width="3.41" height="5" fill="#e4e4e4"/>
<rect x="297.59" y="275.5" width="3.41" height="5" fill="#e4e4e4"/>
<text x="285" y="291" font-family="Liberation Sans" font-size="10.08" fill="#e6e6e6" textLength="25.6" lengthAdjust="spacingAndGlyphs">R484</text>
<text x="364" y="238.6" font-family="Liberation Sans" font-size="10.64" fill="#e6e6e6" textLength="13.4" lengthAdjust="spacingAndGlyphs">J5</text>
<path d="M348 269 L359 269 L353.5 263 Z" fill="none" stroke="#e6e6e6" stroke-width="0.9"/>
<rect x="265" y="298.6" width="21" height="10.7" fill="#141416" stroke="#e6e6e6" stroke-width="0.9"/>
<rect x="272" y="309.3" width="10" height="8.5" fill="none" stroke="#e6e6e6" stroke-width="0.9"/>
<text x="201" y="311.8" font-family="Liberation Sans" font-size="9.52" fill="#e6e6e6" textLength="35.6" lengthAdjust="spacingAndGlyphs">R31 D1</text>
<text x="201" y="320.4" font-family="Liberation Sans" font-size="9.52" fill="#e6e6e6" textLength="35.6" lengthAdjust="spacingAndGlyphs">R32 D2</text>
<text x="201" y="329.3" font-family="Liberation Sans" font-size="9.52" fill="#e6e6e6" textLength="35.6" lengthAdjust="spacingAndGlyphs">R33 D3</text>
<text x="201" y="339.6" font-family="Liberation Sans" font-size="9.52" fill="#e6e6e6" textLength="35.6" lengthAdjust="spacingAndGlyphs">R34 D4</text>
<text x="295.5" y="388" font-family="Liberation Sans" font-size="9.52" fill="#e6e6e6" textLength="20" lengthAdjust="spacingAndGlyphs" transform="rotate(-90 295.5 388)">J10</text>
<text x="378" y="395.5" font-family="Liberation Sans" font-size="9.52" fill="#e6e6e6" textLength="12.5" lengthAdjust="spacingAndGlyphs" transform="rotate(-90 378 395.5)">J3</text>
<text x="401" y="316" font-family="Liberation Sans" font-size="10.08" fill="#e6e6e6" textLength="12" lengthAdjust="spacingAndGlyphs">U2</text>
<text x="306.7" y="475.4" font-family="Liberation Sans" font-size="10.64" fill="#e6e6e6" textLength="31.6" lengthAdjust="spacingAndGlyphs">GND1</text>
<text x="342" y="206.4" font-family="Liberation Sans" font-size="9.52" fill="#e6e6e6" textLength="26" lengthAdjust="spacingAndGlyphs">C115</text>
<text x="342" y="215" font-family="Liberation Sans" font-size="9.52" fill="#e6e6e6" textLength="26" lengthAdjust="spacingAndGlyphs">C116</text>
<rect x="257.5" y="149" width="9" height="17.5" fill="#161618" stroke="#e6e6e6" stroke-width="0.9"/>
<rect x="259.0" y="150.5" width="6" height="14.5" fill="#2a2a2c"/>
<rect x="259.0" y="150.5" width="6" height="3.85" fill="#e4e4e4"/>
<rect x="259.0" y="161.15" width="6" height="3.85" fill="#e4e4e4"/>
<text x="272.5" y="171" font-family="Liberation Sans" font-size="8.4" fill="#e6e6e6" textLength="20" lengthAdjust="spacingAndGlyphs" transform="rotate(-90 272.5 171)">R470</text>
<text x="499.7" y="60" font-family="Liberation Sans" font-size="9.52" fill="#e6e6e6" textLength="25.9" lengthAdjust="spacingAndGlyphs">R481</text>
<text x="516" y="69.8" font-family="Liberation Sans" font-size="10.08" fill="#e6e6e6" textLength="12.4" lengthAdjust="spacingAndGlyphs">U4</text>
<rect x="530" y="52" width="22" height="27" fill="#18181a"/>
<path d="M531 58 L530 59 L530 73 L531 74 M553 55 L554 56 L554 72 L553 73" fill="none" stroke="#bbb" stroke-width="0.8"/>
<rect x="533" y="53" width="5" height="7" fill="#ece6de"/>
<rect x="539.3" y="53" width="5" height="7" fill="#ece6de"/>
<rect x="545.5" y="53" width="5" height="7" fill="#ece6de"/>
<rect x="533" y="71.5" width="5" height="7" fill="#ece6de"/>
<rect x="545.5" y="71.5" width="5" height="7" fill="#ece6de"/>
<circle cx="572.5" cy="59.5" r="10.3" fill="none" stroke="#cfcfcf" stroke-width="1"/>
<rect x="567" y="53" width="12" height="12.5" fill="#dcc4a4"/>
<rect x="567" y="53" width="12" height="2.5" fill="#eee"/>
<rect x="567" y="63" width="12" height="2.5" fill="#eee"/>
<rect x="557" y="72.4" width="7" height="12.3" fill="#161618" stroke="#e6e6e6" stroke-width="0.9"/>
<rect x="558.5" y="73.9" width="4" height="9.3" fill="#d8c4aa"/>
<rect x="558.5" y="73.9" width="4" height="2.706" fill="#e4e4e4"/>
<rect x="558.5" y="80.494" width="4" height="2.706" fill="#e4e4e4"/>
<text x="467" y="32" font-family="Liberation Sans" font-size="9.52" fill="#e6e6e6" textLength="37" lengthAdjust="spacingAndGlyphs">REG_3V3</text>
<text x="483" y="42.5" font-family="Liberation Sans" font-size="10.08" fill="#e6e6e6" textLength="20.8" lengthAdjust="spacingAndGlyphs">D12</text>
<rect x="505" y="26" width="8" height="16.4" fill="#161618" stroke="#9a9a9a" stroke-width="0.8"/>
<rect x="506.2" y="27.2" width="5.6" height="13.999999999999998" fill="#eadfd2"/>
<text x="516" y="42.5" font-family="Liberation Sans" font-size="9.52" fill="#e6e6e6">T</text>
<text x="521.5" y="42.5" font-family="Liberation Sans" font-size="10.08" fill="#e6e6e6" textLength="20.5" lengthAdjust="spacingAndGlyphs">C36</text>
<rect x="529.7" y="26" width="21.9" height="8" fill="#161618" stroke="#e6e6e6" stroke-width="0.9"/>
<rect x="531.2" y="27.5" width="18.9" height="5" fill="#2a2a2c"/>
<rect x="531.2" y="27.5" width="4.818" height="5" fill="#e4e4e4"/>
<rect x="545.282" y="27.5" width="4.818" height="5" fill="#e4e4e4"/>
<text x="553" y="34" font-family="Liberation Sans" font-size="10.08" fill="#e6e6e6" textLength="19" lengthAdjust="spacingAndGlyphs">R30</text>
<rect x="547.5" y="37" width="16.5" height="6.7" fill="#161618" stroke="#e6e6e6" stroke-width="0.9"/>
<rect x="549.0" y="38.5" width="13.5" height="3.7" fill="#d8c8b0"/>
<rect x="549.0" y="38.5" width="3.63" height="3.7" fill="#e4e4e4"/>
<rect x="558.87" y="38.5" width="3.63" height="3.7" fill="#e4e4e4"/>
<text x="566" y="111" font-family="Liberation Sans" font-size="9.52" fill="#e6e6e6" textLength="12" lengthAdjust="spacingAndGlyphs" transform="rotate(-90 566 111)">C3</text>
<text x="575.5" y="111" font-family="Liberation Sans" font-size="9.52" fill="#e6e6e6" textLength="19.5" lengthAdjust="spacingAndGlyphs" transform="rotate(-90 575.5 111)">C38</text>
<rect x="576" y="73.8" width="20.8" height="6.8" fill="#161618" stroke="#e6e6e6" stroke-width="0.9"/>
<rect x="577.5" y="75.3" width="17.8" height="3.8" fill="#2a2a2c"/>
<rect x="577.5" y="75.3" width="4.5760000000000005" height="3.8" fill="#e4e4e4"/>
<rect x="590.7239999999999" y="75.3" width="4.5760000000000005" height="3.8" fill="#e4e4e4"/>
<text x="581.7" y="90" font-family="Liberation Sans" font-size="10.08" fill="#e6e6e6" textLength="12.3" lengthAdjust="spacingAndGlyphs">L2</text>
<rect x="622.7" y="72.4" width="16.3" height="12.3" fill="#141416" stroke="#bdbdbd" stroke-width="0.8"/>
<rect x="626" y="75" width="10" height="7" fill="#2a2a2c"/>
<text x="607.7" y="82" font-family="Liberation Sans" font-size="9.52" fill="#e6e6e6" textLength="11" lengthAdjust="spacingAndGlyphs">Q2</text>
<path d="M644.6 79.5 L650 79.5 M650 74.5 L650 84.5 M650 74.5 L666 74.5 L666 84.5 L650 84.5 M655 76 L655 83 M661 76 L661 83 M666 79.5 L669 79.5" fill="none" stroke="#e6e6e6" stroke-width="0.8"/>
<text x="628" y="113.5" font-family="Liberation Sans" font-size="9.52" fill="#e6e6e6" textLength="11" lengthAdjust="spacingAndGlyphs" transform="rotate(-90 628 113.5)">J4</text>
<path d="M659.7 95.7 L659.7 105.3 L652.8 100.5 Z" fill="none" stroke="#e6e6e6" stroke-width="0.9"/>
<path d="M666.6 24 L666.6 107" fill="none" stroke="#9a9a9a" stroke-width="0.8"/>
<path d="M575 42 L583 30 L583 28" fill="none" stroke="#cfcfcf" stroke-width="0.8"/>
<text x="409" y="110.8" font-family="Liberation Sans" font-size="9.52" fill="#e6e6e6" textLength="12" lengthAdjust="spacingAndGlyphs">L3</text>
<rect x="404.6" y="111.6" width="21.3" height="10.7" fill="#161618" stroke="#e6e6e6" stroke-width="0.9"/>
<rect x="406.1" y="113.1" width="18.3" height="7.699999999999999" fill="#2a2a2c"/>
<rect x="406.1" y="113.1" width="4.686" height="7.699999999999999" fill="#e4e4e4"/>
<rect x="419.71400000000006" y="113.1" width="4.686" height="7.699999999999999" fill="#e4e4e4"/>
<rect x="425.6" y="103" width="11.5" height="18" fill="#121214" rx="1"/>
<text x="368" y="139" font-family="Liberation Sans" font-size="9.52" fill="#e6e6e6" textLength="12" lengthAdjust="spacingAndGlyphs" transform="rotate(-90 368 139)">X1</text>
<text x="375" y="176" font-family="Liberation Sans" font-size="10.08" fill="#e6e6e6" textLength="18" lengthAdjust="spacingAndGlyphs">C42</text>
<rect x="359" y="168.4" width="13.5" height="6.6" fill="#161618" stroke="#e6e6e6" stroke-width="0.9"/>
<rect x="360.5" y="169.9" width="10.5" height="3.5999999999999996" fill="#2a2a2c"/>
<rect x="360.5" y="169.9" width="2.97" height="3.5999999999999996" fill="#e4e4e4"/>
<rect x="368.03" y="169.9" width="2.97" height="3.5999999999999996" fill="#e4e4e4"/>
<text x="397" y="205" font-family="Liberation Sans" font-size="9.52" fill="#e6e6e6" textLength="18" lengthAdjust="spacingAndGlyphs" transform="rotate(-90 397 205)">U18</text>
<rect x="368.7" y="181.5" width="22.3" height="24.5" fill="#141416" stroke="#cfcfcf" stroke-width="1"/>
<rect x="372" y="183.5" width="16" height="21" fill="#3c3c40"/>
<rect x="369.8" y="185.5" width="3" height="2.2" fill="#d8d8d8"/>
<rect x="387.5" y="185.5" width="3" height="2.2" fill="#d8d8d8"/>
<rect x="369.8" y="190.5" width="3" height="2.2" fill="#d8d8d8"/>
<rect x="387.5" y="190.5" width="3" height="2.2" fill="#d8d8d8"/>
<rect x="369.8" y="195.5" width="3" height="2.2" fill="#d8d8d8"/>
<rect x="387.5" y="195.5" width="3" height="2.2" fill="#d8d8d8"/>
<rect x="369.8" y="200.5" width="3" height="2.2" fill="#d8d8d8"/>
<rect x="387.5" y="200.5" width="3" height="2.2" fill="#d8d8d8"/>
<circle cx="391.5" cy="209" r="1.1" fill="#e6e6e6"/>
<rect x="370.6" y="210" width="18.4" height="7.7" fill="#161618" stroke="#e6e6e6" stroke-width="0.9"/>
<rect x="372.1" y="211.5" width="15.399999999999999" height="4.7" fill="#3a3a3a"/>
<rect x="372.1" y="211.5" width="4.048" height="4.7" fill="#e4e4e4"/>
<rect x="383.452" y="211.5" width="4.048" height="4.7" fill="#e4e4e4"/>
<text x="390" y="217.5" font-family="Liberation Sans" font-size="10.08" fill="#e6e6e6" textLength="18" lengthAdjust="spacingAndGlyphs">R44</text>
<rect x="371.6" y="219.6" width="13.4" height="6.8" fill="#161618" stroke="#e6e6e6" stroke-width="0.9"/>
<rect x="373.1" y="221.1" width="10.4" height="3.8" fill="#d8c6b0"/>
<rect x="373.1" y="221.1" width="2.948" height="3.8" fill="#e8e4de"/>
<rect x="380.552" y="221.1" width="2.948" height="3.8" fill="#e8e4de"/>
<text x="386" y="226.5" font-family="Liberation Sans" font-size="10.08" fill="#e6e6e6" textLength="18" lengthAdjust="spacingAndGlyphs">C43</text>
<text x="502.5" y="158.5" font-family="Liberation Sans" font-size="9.52" fill="#e6e6e6" textLength="19" lengthAdjust="spacingAndGlyphs" transform="rotate(-90 502.5 158.5)">R42</text>
<text x="511.3" y="158.5" font-family="Liberation Sans" font-size="9.52" fill="#e6e6e6" textLength="19" lengthAdjust="spacingAndGlyphs" transform="rotate(-90 511.3 158.5)">R12</text>
<text x="521" y="141" font-family="Liberation Sans" font-size="9.52" fill="#e6e6e6" textLength="19" lengthAdjust="spacingAndGlyphs" transform="rotate(-90 521 141)">R10</text>
<text x="522.5" y="116.5" font-family="Liberation Sans" font-size="9.52" fill="#e6e6e6" textLength="18.5" lengthAdjust="spacingAndGlyphs" transform="rotate(-90 522.5 116.5)">R40</text>
<text x="533" y="157.5" font-family="Liberation Sans" font-size="9.52" fill="#e6e6e6" textLength="18.5" lengthAdjust="spacingAndGlyphs" transform="rotate(-90 533 157.5)">R13</text>
<text x="542" y="157.5" font-family="Liberation Sans" font-size="9.52" fill="#e6e6e6" textLength="18.5" lengthAdjust="spacingAndGlyphs" transform="rotate(-90 542 157.5)">R11</text>
<text x="553.5" y="135" font-family="Liberation Sans" font-size="9.52" fill="#e6e6e6" textLength="12" lengthAdjust="spacingAndGlyphs" transform="rotate(-90 553.5 135)">R3</text>
<text x="563.5" y="135" font-family="Liberation Sans" font-size="9.52" fill="#e6e6e6" textLength="12" lengthAdjust="spacingAndGlyphs" transform="rotate(-90 563.5 135)">R2</text>
<text x="572.5" y="176" font-family="Liberation Sans" font-size="9.52" fill="#e6e6e6" textLength="12" lengthAdjust="spacingAndGlyphs" transform="rotate(-90 572.5 176)">R9</text>
<text x="583" y="178" font-family="Liberation Sans" font-size="9.52" fill="#e6e6e6" textLength="14" lengthAdjust="spacingAndGlyphs" transform="rotate(-90 583 178)">R7</text>
<rect x="514" y="145" width="8" height="12" fill="#161618" stroke="#e6e6e6" stroke-width="0.9"/>
<rect x="515.5" y="146.5" width="5" height="9" fill="#2a2a2c"/>
<rect x="515.5" y="146.5" width="5" height="2.64" fill="#e4e4e4"/>
<rect x="515.5" y="152.86" width="5" height="2.64" fill="#e4e4e4"/>
<rect x="494.6" y="159.5" width="8.6" height="12.2" fill="#161618" stroke="#e6e6e6" stroke-width="0.9"/>
<rect x="496.1" y="161.0" width="5.6" height="9.2" fill="#2a2a2c"/>
<rect x="496.1" y="161.0" width="5.6" height="2.6839999999999997" fill="#e4e4e4"/>
<rect x="496.1" y="167.516" width="5.6" height="2.6839999999999997" fill="#e4e4e4"/>
<rect x="503.8" y="159.5" width="8.6" height="12.2" fill="#161618" stroke="#e6e6e6" stroke-width="0.9"/>
<rect x="505.3" y="161.0" width="5.6" height="9.2" fill="#2a2a2c"/>
<rect x="505.3" y="161.0" width="5.6" height="2.6839999999999997" fill="#e4e4e4"/>
<rect x="505.3" y="167.516" width="5.6" height="2.6839999999999997" fill="#e4e4e4"/>
<rect x="514" y="159.5" width="8.6" height="12.2" fill="#161618" stroke="#e6e6e6" stroke-width="0.9"/>
<rect x="515.5" y="161.0" width="5.6" height="9.2" fill="#2a2a2c"/>
<rect x="515.5" y="161.0" width="5.6" height="2.6839999999999997" fill="#e4e4e4"/>
<rect x="515.5" y="167.516" width="5.6" height="2.6839999999999997" fill="#e4e4e4"/>
<rect x="524" y="159.5" width="8.6" height="12.2" fill="#161618" stroke="#e6e6e6" stroke-width="0.9"/>
<rect x="525.5" y="161.0" width="5.6" height="9.2" fill="#2a2a2c"/>
<rect x="525.5" y="161.0" width="5.6" height="2.6839999999999997" fill="#e4e4e4"/>
<rect x="525.5" y="167.516" width="5.6" height="2.6839999999999997" fill="#e4e4e4"/>
<rect x="534.2" y="159.5" width="8.6" height="12.2" fill="#161618" stroke="#e6e6e6" stroke-width="0.9"/>
<rect x="535.7" y="161.0" width="5.6" height="9.2" fill="#2a2a2c"/>
<rect x="535.7" y="161.0" width="5.6" height="2.6839999999999997" fill="#e4e4e4"/>
<rect x="535.7" y="167.516" width="5.6" height="2.6839999999999997" fill="#e4e4e4"/>
<rect x="545" y="159.5" width="8.6" height="12.2" fill="#161618" stroke="#e6e6e6" stroke-width="0.9"/>
<rect x="546.5" y="161.0" width="5.6" height="9.2" fill="#2a2a2c"/>
<rect x="546.5" y="161.0" width="5.6" height="2.6839999999999997" fill="#e4e4e4"/>
<rect x="546.5" y="167.516" width="5.6" height="2.6839999999999997" fill="#e4e4e4"/>
<rect x="556" y="159.5" width="8.6" height="12.2" fill="#161618" stroke="#e6e6e6" stroke-width="0.9"/>
<rect x="557.5" y="161.0" width="5.6" height="9.2" fill="#2a2a2c"/>
<rect x="557.5" y="161.0" width="5.6" height="2.6839999999999997" fill="#e4e4e4"/>
<rect x="557.5" y="167.516" width="5.6" height="2.6839999999999997" fill="#e4e4e4"/>
<rect x="545" y="137" width="8.8" height="21.5" fill="#161618" stroke="#e6e6e6" stroke-width="0.9"/>
<rect x="546.5" y="138.5" width="5.800000000000001" height="18.5" fill="#bdbdbd"/>
<rect x="546.5" y="138.5" width="5.800000000000001" height="4.73" fill="#e6e6e6"/>
<rect x="546.5" y="152.27" width="5.800000000000001" height="4.73" fill="#e6e6e6"/>
<rect x="547.5" y="144" width="3.8" height="7" fill="#3a3a3a"/>
<rect x="556" y="137" width="8.8" height="21.5" fill="#161618" stroke="#e6e6e6" stroke-width="0.9"/>
<rect x="557.5" y="138.5" width="5.800000000000001" height="18.5" fill="#bdbdbd"/>
<rect x="557.5" y="138.5" width="5.800000000000001" height="4.73" fill="#e6e6e6"/>
<rect x="557.5" y="152.27" width="5.800000000000001" height="4.73" fill="#e6e6e6"/>
<rect x="558.5" y="144" width="3.8" height="7" fill="#3a3a3a"/>
<text x="451" y="181.8" font-family="Liberation Sans" font-size="9.86" fill="#e6e6e6" textLength="20" lengthAdjust="spacingAndGlyphs">C15</text>
<text x="451" y="190.9" font-family="Liberation Sans" font-size="9.86" fill="#e6e6e6" textLength="20" lengthAdjust="spacingAndGlyphs">C13</text>
<text x="451" y="200.0" font-family="Liberation Sans" font-size="9.86" fill="#e6e6e6" textLength="17" lengthAdjust="spacingAndGlyphs">C6</text>
<text x="451" y="209.10000000000002" font-family="Liberation Sans" font-size="9.86" fill="#e6e6e6" textLength="20" lengthAdjust="spacingAndGlyphs">C11</text>
<text x="451" y="218.20000000000002" font-family="Liberation Sans" font-size="9.86" fill="#e6e6e6" textLength="17" lengthAdjust="spacingAndGlyphs">C4</text>
<text x="451" y="227.3" font-family="Liberation Sans" font-size="9.86" fill="#e6e6e6" textLength="20" lengthAdjust="spacingAndGlyphs">C10</text>
<text x="451" y="236.4" font-family="Liberation Sans" font-size="9.86" fill="#e6e6e6" textLength="17" lengthAdjust="spacingAndGlyphs">C3</text>
<text x="451" y="245.5" font-family="Liberation Sans" font-size="9.86" fill="#e6e6e6" textLength="17" lengthAdjust="spacingAndGlyphs">C1</text>
<rect x="473.3" y="179.5" width="14" height="13.5" fill="#161618" stroke="#e6e6e6" stroke-width="0.9"/>
<rect x="474.7" y="180.8" width="11.2" height="4.75" fill="#a08a74"/>
<rect x="474.7" y="180.8" width="3" height="4.75" fill="#e8e4de"/>
<rect x="482.90000000000003" y="180.8" width="3" height="4.75" fill="#e8e4de"/>
<rect x="474.7" y="186.95" width="11.2" height="4.75" fill="#a08a74"/>
<rect x="474.7" y="186.95" width="3" height="4.75" fill="#e8e4de"/>
<rect x="482.90000000000003" y="186.95" width="3" height="4.75" fill="#e8e4de"/>
<rect x="473.3" y="196.5" width="14" height="13.5" fill="#161618" stroke="#e6e6e6" stroke-width="0.9"/>
<rect x="474.7" y="197.8" width="11.2" height="4.75" fill="#a08a74"/>
<rect x="474.7" y="197.8" width="3" height="4.75" fill="#e8e4de"/>
<rect x="482.90000000000003" y="197.8" width="3" height="4.75" fill="#e8e4de"/>
<rect x="474.7" y="203.95" width="11.2" height="4.75" fill="#a08a74"/>
<rect x="474.7" y="203.95" width="3" height="4.75" fill="#e8e4de"/>
<rect x="482.90000000000003" y="203.95" width="3" height="4.75" fill="#e8e4de"/>
<rect x="473.3" y="212.5" width="14" height="14.0" fill="#161618" stroke="#e6e6e6" stroke-width="0.9"/>
<rect x="474.7" y="213.8" width="11.2" height="5.0" fill="#a08a74"/>
<rect x="474.7" y="213.8" width="3" height="5.0" fill="#e8e4de"/>
<rect x="482.90000000000003" y="213.8" width="3" height="5.0" fill="#e8e4de"/>
<rect x="474.7" y="220.2" width="11.2" height="5.0" fill="#a08a74"/>
<rect x="474.7" y="220.2" width="3" height="5.0" fill="#e8e4de"/>
<rect x="482.90000000000003" y="220.2" width="3" height="5.0" fill="#e8e4de"/>
<rect x="473.3" y="228.5" width="14" height="14.0" fill="#161618" stroke="#e6e6e6" stroke-width="0.9"/>
<rect x="474.7" y="229.8" width="11.2" height="5.0" fill="#a08a74"/>
<rect x="474.7" y="229.8" width="3" height="5.0" fill="#e8e4de"/>
<rect x="482.90000000000003" y="229.8" width="3" height="5.0" fill="#e8e4de"/>
<rect x="474.7" y="236.2" width="11.2" height="5.0" fill="#a08a74"/>
<rect x="474.7" y="236.2" width="3" height="5.0" fill="#e8e4de"/>
<rect x="482.90000000000003" y="236.2" width="3" height="5.0" fill="#e8e4de"/>
<text x="588" y="183.3" font-family="Liberation Sans" font-size="8.96" fill="#e6e6e6" textLength="19" lengthAdjust="spacingAndGlyphs">C16</text>
<text x="588" y="191.10000000000002" font-family="Liberation Sans" font-size="8.96" fill="#e6e6e6" textLength="19" lengthAdjust="spacingAndGlyphs">C14</text>
<text x="588" y="198.9" font-family="Liberation Sans" font-size="8.96" fill="#e6e6e6" textLength="13" lengthAdjust="spacingAndGlyphs">C9</text>
<text x="588" y="206.70000000000002" font-family="Liberation Sans" font-size="8.96" fill="#e6e6e6" textLength="19" lengthAdjust="spacingAndGlyphs">C12</text>
<rect x="574" y="178.6" width="14" height="14.599999999999994" fill="#161618" stroke="#e6e6e6" stroke-width="0.9"/>
<rect x="575.4" y="179.9" width="11.2" height="5.299999999999983" fill="#a08a74"/>
<rect x="575.4" y="179.9" width="3" height="5.299999999999983" fill="#e8e4de"/>
<rect x="583.6" y="179.9" width="3" height="5.299999999999983" fill="#e8e4de"/>
<rect x="575.4" y="186.59999999999997" width="11.2" height="5.300000000000011" fill="#a08a74"/>
<rect x="575.4" y="186.59999999999997" width="3" height="5.300000000000011" fill="#e8e4de"/>
<rect x="583.6" y="186.59999999999997" width="3" height="5.300000000000011" fill="#e8e4de"/>
<rect x="574" y="196.5" width="14" height="13.099999999999994" fill="#161618" stroke="#e6e6e6" stroke-width="0.9"/>
<rect x="575.4" y="197.8" width="11.2" height="4.550000000000011" fill="#a08a74"/>
<rect x="575.4" y="197.8" width="3" height="4.550000000000011" fill="#e8e4de"/>
<rect x="583.6" y="197.8" width="3" height="4.550000000000011" fill="#e8e4de"/>
<rect x="575.4" y="203.75" width="11.2" height="4.549999999999983" fill="#a08a74"/>
<rect x="575.4" y="203.75" width="3" height="4.549999999999983" fill="#e8e4de"/>
<rect x="583.6" y="203.75" width="3" height="4.549999999999983" fill="#e8e4de"/>
<rect x="574" y="212.5" width="14" height="14.0" fill="#161618" stroke="#e6e6e6" stroke-width="0.9"/>
<rect x="575.4" y="213.8" width="11.2" height="5.0" fill="#a08a74"/>
<rect x="575.4" y="213.8" width="3" height="5.0" fill="#e8e4de"/>
<rect x="583.6" y="213.8" width="3" height="5.0" fill="#e8e4de"/>
<rect x="575.4" y="220.2" width="11.2" height="5.0" fill="#a08a74"/>
<rect x="575.4" y="220.2" width="3" height="5.0" fill="#e8e4de"/>
<rect x="583.6" y="220.2" width="3" height="5.0" fill="#e8e4de"/>
<rect x="574" y="229" width="14" height="13.699999999999989" fill="#161618" stroke="#e6e6e6" stroke-width="0.9"/>
<rect x="575.4" y="230.3" width="11.2" height="4.849999999999994" fill="#a08a74"/>
<rect x="575.4" y="230.3" width="3" height="4.849999999999994" fill="#e8e4de"/>
<rect x="583.6" y="230.3" width="3" height="4.849999999999994" fill="#e8e4de"/>
<rect x="575.4" y="236.54999999999998" width="11.2" height="4.849999999999994" fill="#a08a74"/>
<rect x="575.4" y="236.54999999999998" width="3" height="4.849999999999994" fill="#e8e4de"/>
<rect x="583.6" y="236.54999999999998" width="3" height="4.849999999999994" fill="#e8e4de"/>
<text x="566" y="247" font-family="Liberation Sans" font-size="8.96" fill="#e6e6e6" textLength="16" lengthAdjust="spacingAndGlyphs" transform="rotate(-90 566 247)">C20</text>
<text x="617" y="188.8" font-family="Liberation Sans" font-size="9.52" fill="#e6e6e6" textLength="19" lengthAdjust="spacingAndGlyphs">R16</text>
<text x="610.6" y="217.5" font-family="Liberation Sans" font-size="9.52" fill="#e6e6e6" textLength="18" lengthAdjust="spacingAndGlyphs">R14</text>
<rect x="623.5" y="189" width="9" height="8" fill="#161618" stroke="#e6e6e6" stroke-width="0.9"/>
<rect x="625.0" y="190.5" width="6" height="5" fill="#2a2a2c"/>
<rect x="625.0" y="190.5" width="1.98" height="5" fill="#e4e4e4"/>
<rect x="629.02" y="190.5" width="1.98" height="5" fill="#e4e4e4"/>
<rect x="623.5" y="200" width="9" height="8" fill="#161618" stroke="#e6e6e6" stroke-width="0.9"/>
<rect x="625.0" y="201.5" width="6" height="5" fill="#2a2a2c"/>
<rect x="625.0" y="201.5" width="1.98" height="5" fill="#e4e4e4"/>
<rect x="629.02" y="201.5" width="1.98" height="5" fill="#e4e4e4"/>
<rect x="623.5" y="211" width="9" height="8" fill="#161618" stroke="#e6e6e6" stroke-width="0.9"/>
<rect x="625.0" y="212.5" width="6" height="5" fill="#2a2a2c"/>
<rect x="625.0" y="212.5" width="1.98" height="5" fill="#e4e4e4"/>
<rect x="629.02" y="212.5" width="1.98" height="5" fill="#e4e4e4"/>
<rect x="623.5" y="222" width="9" height="8" fill="#161618" stroke="#e6e6e6" stroke-width="0.9"/>
<rect x="625.0" y="223.5" width="6" height="5" fill="#2a2a2c"/>
<rect x="625.0" y="223.5" width="1.98" height="5" fill="#e4e4e4"/>
<rect x="629.02" y="223.5" width="1.98" height="5" fill="#e4e4e4"/>
<rect x="623.5" y="233" width="9" height="8" fill="#161618" stroke="#e6e6e6" stroke-width="0.9"/>
<rect x="625.0" y="234.5" width="6" height="5" fill="#2a2a2c"/>
<rect x="625.0" y="234.5" width="1.98" height="5" fill="#e4e4e4"/>
<rect x="629.02" y="234.5" width="1.98" height="5" fill="#e4e4e4"/>
<text x="638" y="248" font-family="Liberation Sans" font-size="8.96" fill="#e6e6e6" textLength="19" lengthAdjust="spacingAndGlyphs" transform="rotate(-90 638 248)">R20</text>
<text x="641" y="265.5" font-family="Liberation Sans" font-size="8.96" fill="#e6e6e6" textLength="15.5" lengthAdjust="spacingAndGlyphs" transform="rotate(-90 641 265.5)">R41</text>
<rect x="642" y="256" width="8" height="9.5" fill="#161618" stroke="#e6e6e6" stroke-width="0.9"/>
<rect x="643.5" y="257.5" width="5" height="6.5" fill="#2a2a2c"/>
<rect x="643.5" y="257.5" width="5" height="2.09" fill="#e4e4e4"/>
<rect x="643.5" y="261.91" width="5" height="2.09" fill="#e4e4e4"/>
<path d="M715.8 160 L715.8 270 M715.8 172 L724 172 M715.8 250 L724 250" fill="none" stroke="#9a9a9a" stroke-width="0.7"/>
<rect x="576.4" y="250.3" width="24.6" height="11" fill="#161618" stroke="#e6e6e6" stroke-width="0.9"/>
<rect x="577.9" y="251.8" width="21.6" height="8" fill="#d6c0a2"/>
<rect x="577.9" y="251.8" width="5.412" height="8" fill="#e8e4de"/>
<rect x="594.088" y="251.8" width="5.412" height="8" fill="#e8e4de"/>
<text x="602.4" y="261.3" font-family="Liberation Sans" font-size="10.08" fill="#e6e6e6" textLength="19" lengthAdjust="spacingAndGlyphs">C28</text>
<rect x="580.5" y="265.4" width="20.5" height="8.2" fill="#161618" stroke="#e6e6e6" stroke-width="0.9"/>
<rect x="582.0" y="266.9" width="17.5" height="5.199999999999999" fill="#2a2a2c"/>
<rect x="582.0" y="266.9" width="4.51" height="5.199999999999999" fill="#e4e4e4"/>
<rect x="594.99" y="266.9" width="4.51" height="5.199999999999999" fill="#e4e4e4"/>
<text x="602" y="273.6" font-family="Liberation Sans" font-size="10.08" fill="#e6e6e6" textLength="12" lengthAdjust="spacingAndGlyphs">L4</text>
<text x="672" y="276.3" font-family="Liberation Sans" font-size="9.52" fill="#e6e6e6" textLength="19" lengthAdjust="spacingAndGlyphs">R21</text>
<text x="670.8" y="287" font-family="Liberation Sans" font-size="9.52" fill="#e6e6e6" textLength="19" lengthAdjust="spacingAndGlyphs">C19</text>
<rect x="654" y="265.4" width="15" height="7" fill="#161618" stroke="#e6e6e6" stroke-width="0.9"/>
<rect x="655.5" y="266.9" width="12" height="4" fill="#2a2a2c"/>
<rect x="655.5" y="266.9" width="3.3" height="4" fill="#e4e4e4"/>
<rect x="664.2" y="266.9" width="3.3" height="4" fill="#e4e4e4"/>
<rect x="654" y="273" width="15" height="7" fill="#161618" stroke="#e6e6e6" stroke-width="0.9"/>
<rect x="655.5" y="274.5" width="12" height="4" fill="#2a2a2c"/>
<rect x="655.5" y="274.5" width="3.3" height="4" fill="#e4e4e4"/>
<rect x="664.2" y="274.5" width="3.3" height="4" fill="#e4e4e4"/>
<path d="M669.4 261.3 L680.3 261.3 L674.8 257 Z" fill="none" stroke="#e6e6e6" stroke-width="0.9"/>
<rect x="491" y="245.6" width="19" height="7.1" fill="#161618" stroke="#e6e6e6" stroke-width="0.9"/>
<rect x="492.5" y="247.1" width="16" height="4.1" fill="#2a2a2c"/>
<rect x="492.5" y="247.1" width="4.18" height="4.1" fill="#e4e4e4"/>
<rect x="504.32" y="247.1" width="4.18" height="4.1" fill="#e4e4e4"/>
<path d="M425 246.6 L480.8 246.6 L490 253.7 L490 258" fill="none" stroke="#cfcfcf" stroke-width="0.9"/>
<text x="437" y="256.7" font-family="Liberation Sans" font-size="8.96" fill="#e6e6e6" textLength="9" lengthAdjust="spacingAndGlyphs" transform="rotate(-90 437 256.7)">20</text>
<text x="447.4" y="267" font-family="Liberation Sans" font-size="8.96" fill="#e6e6e6" textLength="20" lengthAdjust="spacingAndGlyphs" transform="rotate(-90 447.4 267)">R17</text>
<text x="458.5" y="267" font-family="Liberation Sans" font-size="8.96" fill="#e6e6e6" textLength="19" lengthAdjust="spacingAndGlyphs" transform="rotate(-90 458.5 267)">C21</text>
<text x="467.6" y="267" font-family="Liberation Sans" font-size="8.96" fill="#e6e6e6" textLength="19" lengthAdjust="spacingAndGlyphs" transform="rotate(-90 467.6 267)">R22</text>
<rect x="469.6" y="250.7" width="13.2" height="25.3" fill="#161618" stroke="#e6e6e6" stroke-width="0.9"/>
<rect x="471.1" y="252.2" width="10.2" height="22.3" fill="#d4bea0"/>
<rect x="471.1" y="252.2" width="10.2" height="5.566" fill="#ece8e2"/>
<rect x="471.1" y="268.934" width="10.2" height="5.566" fill="#ece8e2"/>
<rect x="484.8" y="259.8" width="22.2" height="13.2" fill="#161618" stroke="#e6e6e6" stroke-width="0.9"/>
<rect x="486.3" y="261.3" width="5.6" height="10.2" fill="#d6cfc6"/>
<rect x="487.3" y="263.8" width="3.6" height="5.2" fill="#2c2c2c"/>
<rect x="493.3" y="261.3" width="5.6" height="10.2" fill="#d6cfc6"/>
<rect x="494.3" y="263.8" width="3.6" height="5.2" fill="#2c2c2c"/>
<rect x="500.3" y="261.3" width="5.6" height="10.2" fill="#d6cfc6"/>
<rect x="501.3" y="263.8" width="3.6" height="5.2" fill="#2c2c2c"/>
<rect x="512" y="250.7" width="7.5" height="16.3" fill="#161618" stroke="#e6e6e6" stroke-width="0.9"/>
<rect x="513.5" y="252.2" width="4.5" height="13.3" fill="#6a6460"/>
<rect x="513.5" y="252.2" width="4.5" height="3.5860000000000003" fill="#e4e4e4"/>
<rect x="513.5" y="261.914" width="4.5" height="3.5860000000000003" fill="#e4e4e4"/>
<rect x="520" y="250.7" width="7.5" height="16.3" fill="#161618" stroke="#e6e6e6" stroke-width="0.9"/>
<rect x="521.5" y="252.2" width="4.5" height="13.3" fill="#6a6460"/>
<rect x="521.5" y="252.2" width="4.5" height="3.5860000000000003" fill="#e4e4e4"/>
<rect x="521.5" y="261.914" width="4.5" height="3.5860000000000003" fill="#e4e4e4"/>
<rect x="507" y="267.2" width="20.4" height="4.6" fill="#161618" stroke="#e6e6e6" stroke-width="0.7"/>
<rect x="508.5" y="268.4" width="2.4" height="2.2" fill="#cfcfcf"/>
<rect x="513.3" y="268.4" width="2.4" height="2.2" fill="#cfcfcf"/>
<rect x="518.1" y="268.4" width="2.4" height="2.2" fill="#cfcfcf"/>
<rect x="522.9" y="268.4" width="2.4" height="2.2" fill="#cfcfcf"/>
<rect x="436" y="268" width="10" height="7" fill="#161618" stroke="#e6e6e6" stroke-width="0.9"/>
<rect x="437.5" y="269.5" width="7" height="4" fill="#a8907a"/>
<rect x="437.5" y="269.5" width="2.2" height="4" fill="#e8e4de"/>
<rect x="442.3" y="269.5" width="2.2" height="4" fill="#e8e4de"/>
<text x="431.5" y="284.5" font-family="Liberation Sans" font-size="9.52" fill="#e6e6e6" textLength="17.5" lengthAdjust="spacingAndGlyphs">C26</text>
<rect x="534.5" y="247.6" width="9.8" height="19" fill="#161618" stroke="#e6e6e6" stroke-width="0.9"/>
<rect x="536.0" y="249.1" width="6.800000000000001" height="16" fill="#4a4a4c"/>
<rect x="536.0" y="249.1" width="6.800000000000001" height="4.18" fill="#e4e4e4"/>
<rect x="536.0" y="260.92" width="6.800000000000001" height="4.18" fill="#e4e4e4"/>
<rect x="545" y="247.6" width="9.8" height="19" fill="#161618" stroke="#e6e6e6" stroke-width="0.9"/>
<rect x="546.5" y="249.1" width="6.800000000000001" height="16" fill="#4a4a4c"/>
<rect x="546.5" y="249.1" width="6.800000000000001" height="4.18" fill="#e4e4e4"/>
<rect x="546.5" y="260.92" width="6.800000000000001" height="4.18" fill="#e4e4e4"/>
<rect x="534.5" y="270" width="9.8" height="19" fill="#161618" stroke="#e6e6e6" stroke-width="0.9"/>
<rect x="536.0" y="271.5" width="6.800000000000001" height="16" fill="#4a4a4c"/>
<rect x="536.0" y="271.5" width="6.800000000000001" height="4.18" fill="#e4e4e4"/>
<rect x="536.0" y="283.32" width="6.800000000000001" height="4.18" fill="#e4e4e4"/>
<rect x="545" y="270" width="9.8" height="19" fill="#161618" stroke="#e6e6e6" stroke-width="0.9"/>
<rect x="546.5" y="271.5" width="6.800000000000001" height="16" fill="#4a4a4c"/>
<rect x="546.5" y="271.5" width="6.800000000000001" height="4.18" fill="#e4e4e4"/>
<rect x="546.5" y="283.32" width="6.800000000000001" height="4.18" fill="#e4e4e4"/>
<rect x="555.8" y="249.6" width="8.2" height="14.2" fill="#161618" stroke="#e6e6e6" stroke-width="0.9"/>
<rect x="557.3" y="251.1" width="5.199999999999999" height="11.2" fill="#8a8078"/>
<rect x="557.3" y="251.1" width="5.199999999999999" height="3.1239999999999997" fill="#e4e4e4"/>
<rect x="557.3" y="259.176" width="5.199999999999999" height="3.1239999999999997" fill="#e4e4e4"/>
<rect x="565" y="249.6" width="9" height="19.4" fill="#161618" stroke="#e6e6e6" stroke-width="0.9"/>
<rect x="566.5" y="251.1" width="6" height="16.4" fill="#2a2a2c"/>
<rect x="566.5" y="251.1" width="6" height="4.268" fill="#e4e4e4"/>
<rect x="566.5" y="263.232" width="6" height="4.268" fill="#e4e4e4"/>
<text x="563.7" y="296.7" font-family="Liberation Sans" font-size="9.52" fill="#e6e6e6" textLength="24" lengthAdjust="spacingAndGlyphs" transform="rotate(-90 563.7 296.7)">R4 C17</text>
<text x="576" y="288.6" font-family="Liberation Sans" font-size="9.52" fill="#e6e6e6" textLength="18.6" lengthAdjust="spacingAndGlyphs" transform="rotate(-90 576 288.6)">R39</text>
<path d="M470 287.6 L509 287.6 L509 321 L457.4 321 L457.4 300 Z" fill="none" stroke="#cfcfcf" stroke-width="0.9"/>
<text x="483.7" y="307.9" font-family="Liberation Sans" font-size="9.52" fill="#e6e6e6" textLength="20.3" lengthAdjust="spacingAndGlyphs" transform="rotate(-90 483.7 307.9)">C25</text>
<text x="494.8" y="307.9" font-family="Liberation Sans" font-size="9.52" fill="#e6e6e6" textLength="20.3" lengthAdjust="spacingAndGlyphs" transform="rotate(-90 494.8 307.9)">C18</text>
<text x="460.4" y="319" font-family="Liberation Sans" font-size="9.52" fill="#e6e6e6" textLength="46.6" lengthAdjust="spacingAndGlyphs">R23 R18</text>
<text x="519.3" y="313.5" font-family="Liberation Sans" font-size="9.52" fill="#e6e6e6" textLength="18.5" lengthAdjust="spacingAndGlyphs" transform="rotate(-90 519.3 313.5)">R19</text>
<text x="529.4" y="313.5" font-family="Liberation Sans" font-size="9.52" fill="#e6e6e6" textLength="18.5" lengthAdjust="spacingAndGlyphs" transform="rotate(-90 529.4 313.5)">R15</text>
<text x="519" y="337" font-family="Liberation Sans" font-size="9.52" fill="#e6e6e6" textLength="20" lengthAdjust="spacingAndGlyphs" transform="rotate(-90 519 337)">R25</text>
<text x="530" y="337" font-family="Liberation Sans" font-size="9.52" fill="#e6e6e6" textLength="20" lengthAdjust="spacingAndGlyphs" transform="rotate(-90 530 337)">R24</text>
<rect x="533.3" y="293.7" width="7.6" height="21" fill="#161618" stroke="#e6e6e6" stroke-width="0.9"/>
<rect x="534.8" y="295.2" width="4.6" height="18" fill="#d9d2c8"/>
<rect x="534.8" y="295.2" width="4.6" height="4.62" fill="#e4e4e4"/>
<rect x="534.8" y="308.58" width="4.6" height="4.62" fill="#e4e4e4"/>
<rect x="541" y="293.7" width="7.6" height="21" fill="#161618" stroke="#e6e6e6" stroke-width="0.9"/>
<rect x="542.5" y="295.2" width="4.6" height="18" fill="#d9d2c8"/>
<rect x="542.5" y="295.2" width="4.6" height="4.62" fill="#e4e4e4"/>
<rect x="542.5" y="308.58" width="4.6" height="4.62" fill="#e4e4e4"/>
<rect x="533.3" y="317" width="7.6" height="14" fill="#161618" stroke="#e6e6e6" stroke-width="0.9"/>
<rect x="534.8" y="318.5" width="4.6" height="11" fill="#3c3c3c"/>
<rect x="534.8" y="318.5" width="4.6" height="3.08" fill="#e4e4e4"/>
<rect x="534.8" y="326.42" width="4.6" height="3.08" fill="#e4e4e4"/>
<rect x="541" y="317" width="7.6" height="14" fill="#161618" stroke="#e6e6e6" stroke-width="0.9"/>
<rect x="542.5" y="318.5" width="4.6" height="11" fill="#3c3c3c"/>
<rect x="542.5" y="318.5" width="4.6" height="3.08" fill="#e4e4e4"/>
<rect x="542.5" y="326.42" width="4.6" height="3.08" fill="#e4e4e4"/>
<circle cx="441.8" cy="37.3" r="10" fill="none" stroke="#d8d8d8" stroke-width="1.3"/>
<rect x="435.3" y="30.799999999999997" width="13.0" height="13.0" fill="#d9a866" rx="1"/>
<circle cx="441.8" cy="37.3" r="2.5" fill="#f4e4cc"/>
<text x="434" y="59.5" font-family="Liberation Sans" font-size="10" fill="#e6e6e6">5V</text>
<circle cx="399.4" cy="136.6" r="10" fill="none" stroke="#d8d8d8" stroke-width="1.3"/>
<rect x="392.9" y="130.1" width="13.0" height="13.0" fill="#d9a866" rx="1"/>
<circle cx="399.4" cy="136.6" r="2.5" fill="#f4e4cc"/>
<text x="411.5" y="140.5" font-family="Liberation Sans" font-size="10" fill="#e6e6e6">2V5</text>
<circle cx="347" cy="294.4" r="10" fill="none" stroke="#d8d8d8" stroke-width="1.3"/>
<rect x="340.5" y="287.9" width="13.0" height="13.0" fill="#d9a866" rx="1"/>
<circle cx="347" cy="294.4" r="2.5" fill="#f4e4cc"/>
<text x="339" y="281.8" font-family="Liberation Sans" font-size="10.5" fill="#e6e6e6" textLength="23.4" lengthAdjust="spacingAndGlyphs">3V3</text>
<circle cx="316.2" cy="488" r="10" fill="none" stroke="#d8d8d8" stroke-width="1.3"/>
<rect x="309.7" y="481.5" width="13.0" height="13.0" fill="#d9a866" rx="1"/>
<circle cx="316.2" cy="488" r="2.5" fill="#f4e4cc"/>
<circle cx="678.8" cy="103" r="10" fill="none" stroke="#d8d8d8" stroke-width="1.3"/>
<rect x="672.3" y="96.5" width="13.0" height="13.0" fill="#d9a866" rx="1"/>
<circle cx="678.8" cy="103" r="2.5" fill="#f4e4cc"/>
<text x="670.6" y="91.6" font-family="Liberation Sans" font-size="10.64" fill="#e6e6e6" textLength="32.8" lengthAdjust="spacingAndGlyphs">GND2</text>
<circle cx="274" cy="531" r="6.2" fill="#3e3022"/>
<circle cx="274" cy="531" r="4.836" fill="#b98a55"/>
<circle cx="274" cy="531" r="2.79" fill="#f0cf9e"/>
<circle cx="703.4" cy="105.3" r="6" fill="#3e3022"/>
<circle cx="703.4" cy="105.3" r="4.68" fill="#b98a55"/>
<circle cx="703.4" cy="105.3" r="2.7" fill="#f0cf9e"/>
<circle cx="380" cy="475.7" r="5.3999999999999995" fill="#0e0e10"/>
<circle cx="380" cy="475.7" r="4.8" fill="#8a7a5a"/>
<circle cx="380" cy="475.7" r="3.5999999999999996" fill="#5c5e6c"/>
<circle cx="380" cy="475.7" r="2.16" fill="#9a9cb4"/>
<circle cx="378.6" cy="75.8" r="5.6" fill="#0e0e10"/>
<circle cx="378.6" cy="75.8" r="5" fill="#8a7a5a"/>
<circle cx="378.6" cy="75.8" r="3.75" fill="#5c5e6c"/>
<circle cx="378.6" cy="75.8" r="2.25" fill="#9a9cb4"/>
<circle cx="505" cy="476.5" r="5.3999999999999995" fill="#0e0e10"/>
<circle cx="505" cy="476.5" r="4.8" fill="#8a7a5a"/>
<circle cx="505" cy="476.5" r="3.5999999999999996" fill="#5c5e6c"/>
<circle cx="505" cy="476.5" r="2.16" fill="#9a9cb4"/>
<circle cx="432" cy="349.6" r="3.1" fill="#0e0e10"/>
<circle cx="432" cy="349.6" r="2.5" fill="#8a7a5a"/>
<circle cx="432" cy="349.6" r="1.875" fill="#5c5e6c"/>
<circle cx="432" cy="349.6" r="1.125" fill="#9a9cb4"/>
<circle cx="503.8" cy="74.5" r="5.199999999999999" fill="#0e0e10"/>
<circle cx="503.8" cy="74.5" r="4.6" fill="#8a7a5a"/>
<circle cx="503.8" cy="74.5" r="3.4499999999999997" fill="#5c5e6c"/>
<circle cx="503.8" cy="74.5" r="2.07" fill="#9a9cb4"/>
<rect x="261" y="57.5" width="55" height="20" fill="#121214" stroke="#d2d2d2" stroke-width="1.2"/>
<rect x="264.1666666666667" y="61.5" width="12" height="12" fill="#34302e" rx="3"/>
<rect x="267.9666666666667" y="65.3" width="4.4" height="4.4" fill="#dccab0" rx="0.6"/>
<rect x="282.5" y="61.5" width="12" height="12" fill="#34302e" rx="3"/>
<rect x="286.3" y="65.3" width="4.4" height="4.4" fill="#dccab0" rx="0.6"/>
<rect x="300.8333333333333" y="61.5" width="12" height="12" fill="#34302e" rx="3"/>
<rect x="304.6333333333333" y="65.3" width="4.4" height="4.4" fill="#dccab0" rx="0.6"/>
<rect x="260" y="214" width="20" height="55" fill="#121214" stroke="#d2d2d2" stroke-width="1.2"/>
<rect x="264.0" y="217.16666666666666" width="12" height="12" fill="#34302e" rx="3"/>
<rect x="267.8" y="220.96666666666667" width="4.4" height="4.4" fill="#dccab0" rx="0.6"/>
<rect x="264.0" y="235.5" width="12" height="12" fill="#34302e" rx="3"/>
<rect x="267.8" y="239.3" width="4.4" height="4.4" fill="#dccab0" rx="0.6"/>
<rect x="264.0" y="253.83333333333331" width="12" height="12" fill="#34302e" rx="3"/>
<rect x="267.8" y="257.6333333333333" width="4.4" height="4.4" fill="#dccab0" rx="0.6"/>
<rect x="288" y="214" width="20.5" height="55" fill="#121214" stroke="#d2d2d2" stroke-width="1.2"/>
<rect x="292.25" y="217.16666666666666" width="12" height="12" fill="#34302e" rx="3"/>
<rect x="296.05" y="220.96666666666667" width="4.4" height="4.4" fill="#dccab0" rx="0.6"/>
<rect x="292.25" y="235.5" width="12" height="12" fill="#34302e" rx="3"/>
<rect x="296.05" y="239.3" width="4.4" height="4.4" fill="#dccab0" rx="0.6"/>
<rect x="292.25" y="253.83333333333331" width="12" height="12" fill="#34302e" rx="3"/>
<rect x="296.05" y="257.6333333333333" width="4.4" height="4.4" fill="#dccab0" rx="0.6"/>
<rect x="315.6" y="214" width="21.4" height="55" fill="#121214" stroke="#d2d2d2" stroke-width="1.2"/>
<rect x="320.3" y="217.16666666666666" width="12" height="12" fill="#34302e" rx="3"/>
<rect x="324.1" y="220.96666666666667" width="4.4" height="4.4" fill="#dccab0" rx="0.6"/>
<rect x="320.3" y="235.5" width="12" height="12" fill="#34302e" rx="3"/>
<rect x="324.1" y="239.3" width="4.4" height="4.4" fill="#dccab0" rx="0.6"/>
<rect x="320.3" y="253.83333333333331" width="12" height="12" fill="#34302e" rx="3"/>
<rect x="324.1" y="257.6333333333333" width="4.4" height="4.4" fill="#dccab0" rx="0.6"/>
<rect x="343" y="240.7" width="55" height="20.3" fill="#121214" stroke="#d2d2d2" stroke-width="1.2"/>
<rect x="346.1666666666667" y="244.85" width="12" height="12" fill="#34302e" rx="3"/>
<rect x="349.9666666666667" y="248.65" width="4.4" height="4.4" fill="#dccab0" rx="0.6"/>
<rect x="364.5" y="244.85" width="12" height="12" fill="#34302e" rx="3"/>
<rect x="368.3" y="248.65" width="4.4" height="4.4" fill="#dccab0" rx="0.6"/>
<rect x="382.8333333333333" y="244.85" width="12" height="12" fill="#34302e" rx="3"/>
<rect x="386.6333333333333" y="248.65" width="4.4" height="4.4" fill="#dccab0" rx="0.6"/>
<rect x="630.5" y="89.4" width="21" height="37.6" fill="#121214" stroke="#d2d2d2" stroke-width="1.2"/>
<rect x="635.0" y="92.80000000000001" width="12" height="12" fill="#34302e" rx="3"/>
<rect x="638.8" y="96.60000000000001" width="4.4" height="4.4" fill="#dccab0" rx="0.6"/>
<rect x="635.0" y="111.60000000000001" width="12" height="12" fill="#34302e" rx="3"/>
<rect x="638.8" y="115.4" width="4.4" height="4.4" fill="#dccab0" rx="0.6"/>
<path d="M298.4 311.2 L320.09999999999997 311.2 L320.09999999999997 445.0 L316.49999999999994 451.0 L302.0 451.0 L298.4 445.0 Z" fill="#121214" stroke="#d2d2d2" stroke-width="1.2"/>
<rect x="302" y="316.3" width="12" height="12" fill="#34302e" rx="3"/>
<rect x="305.8" y="320.1" width="4.4" height="4.4" fill="#dccab0" rx="0.6"/>
<rect x="302" y="333.1" width="12" height="12" fill="#34302e" rx="3"/>
<rect x="305.8" y="336.90000000000003" width="4.4" height="4.4" fill="#dccab0" rx="0.6"/>
<rect x="302" y="349.90000000000003" width="12" height="12" fill="#34302e" rx="3"/>
<rect x="305.8" y="353.70000000000005" width="4.4" height="4.4" fill="#dccab0" rx="0.6"/>
<rect x="302" y="366.70000000000005" width="12" height="12" fill="#34302e" rx="3"/>
<rect x="305.8" y="370.50000000000006" width="4.4" height="4.4" fill="#dccab0" rx="0.6"/>
<rect x="302" y="383.5" width="12" height="12" fill="#34302e" rx="3"/>
<rect x="305.8" y="387.3" width="4.4" height="4.4" fill="#dccab0" rx="0.6"/>
<rect x="302" y="400.3" width="12" height="12" fill="#34302e" rx="3"/>
<rect x="305.8" y="404.1" width="4.4" height="4.4" fill="#dccab0" rx="0.6"/>
<rect x="302" y="417.1" width="12" height="12" fill="#34302e" rx="3"/>
<rect x="305.8" y="420.90000000000003" width="4.4" height="4.4" fill="#dccab0" rx="0.6"/>
<rect x="302" y="433.90000000000003" width="12" height="12" fill="#34302e" rx="3"/>
<rect x="305.8" y="437.70000000000005" width="4.4" height="4.4" fill="#dccab0" rx="0.6"/>
<path d="M345.3 311.2 L366.5 311.2 L366.5 445.0 L362.9 451.0 L348.90000000000003 451.0 L345.3 445.0 Z" fill="#121214" stroke="#d2d2d2" stroke-width="1.2"/>
<rect x="348.5" y="317.6" width="12" height="12" fill="#34302e" rx="3"/>
<rect x="352.3" y="321.40000000000003" width="4.4" height="4.4" fill="#dccab0" rx="0.6"/>
<rect x="348.5" y="334.40000000000003" width="12" height="12" fill="#34302e" rx="3"/>
<rect x="352.3" y="338.20000000000005" width="4.4" height="4.4" fill="#dccab0" rx="0.6"/>
<rect x="348.5" y="351.20000000000005" width="12" height="12" fill="#34302e" rx="3"/>
<rect x="352.3" y="355.00000000000006" width="4.4" height="4.4" fill="#dccab0" rx="0.6"/>
<rect x="348.5" y="368.0" width="12" height="12" fill="#34302e" rx="3"/>
<rect x="352.3" y="371.8" width="4.4" height="4.4" fill="#dccab0" rx="0.6"/>
<rect x="348.5" y="384.8" width="12" height="12" fill="#34302e" rx="3"/>
<rect x="352.3" y="388.6" width="4.4" height="4.4" fill="#dccab0" rx="0.6"/>
<rect x="348.5" y="401.6" width="12" height="12" fill="#34302e" rx="3"/>
<rect x="352.3" y="405.40000000000003" width="4.4" height="4.4" fill="#dccab0" rx="0.6"/>
<rect x="348.5" y="418.40000000000003" width="12" height="12" fill="#34302e" rx="3"/>
<rect x="352.3" y="422.20000000000005" width="4.4" height="4.4" fill="#dccab0" rx="0.6"/>
<rect x="348.5" y="435.20000000000005" width="12" height="12" fill="#34302e" rx="3"/>
<rect x="352.3" y="439.00000000000006" width="4.4" height="4.4" fill="#dccab0" rx="0.6"/>
<path d="M281.5 128.5 L276.5 128.5 L276.5 133.5" fill="none" stroke="#d0d0d0" stroke-width="1.1"/>
<path d="M327.5 128.5 L332.5 128.5 L332.5 133.5" fill="none" stroke="#d0d0d0" stroke-width="1.1"/>
<path d="M281.5 184.7 L276.5 184.7 L276.5 179.7" fill="none" stroke="#d0d0d0" stroke-width="1.1"/>
<path d="M327.5 184.7 L332.5 184.7 L332.5 179.7" fill="none" stroke="#d0d0d0" stroke-width="1.1"/>
<rect x="280.0" y="132.0" width="49.0" height="49.19999999999999" fill="#141416"/>
<rect x="280.5" y="132.5" width="48.0" height="48.19999999999999" fill="#3b3a40" rx="1"/>
<rect x="283.7" y="129.3" width="1.6" height="3.4" fill="#dadade"/>
<rect x="283.7" y="180.5" width="1.6" height="3.4" fill="#dadade"/>
<rect x="277.3" y="135.7" width="3.4" height="1.6" fill="#dadade"/>
<rect x="328.3" y="135.7" width="3.4" height="1.6" fill="#dadade"/>
<rect x="287.34" y="129.3" width="1.6" height="3.4" fill="#dadade"/>
<rect x="287.34" y="180.5" width="1.6" height="3.4" fill="#dadade"/>
<rect x="277.3" y="139.35" width="3.4" height="1.6" fill="#dadade"/>
<rect x="328.3" y="139.35" width="3.4" height="1.6" fill="#dadade"/>
<rect x="290.97" y="129.3" width="1.6" height="3.4" fill="#dadade"/>
<rect x="290.97" y="180.5" width="1.6" height="3.4" fill="#dadade"/>
<rect x="277.3" y="143.01" width="3.4" height="1.6" fill="#dadade"/>
<rect x="328.3" y="143.01" width="3.4" height="1.6" fill="#dadade"/>
<rect x="294.61" y="129.3" width="1.6" height="3.4" fill="#dadade"/>
<rect x="294.61" y="180.5" width="1.6" height="3.4" fill="#dadade"/>
<rect x="277.3" y="146.66" width="3.4" height="1.6" fill="#dadade"/>
<rect x="328.3" y="146.66" width="3.4" height="1.6" fill="#dadade"/>
<rect x="298.25" y="129.3" width="1.6" height="3.4" fill="#dadade"/>
<rect x="298.25" y="180.5" width="1.6" height="3.4" fill="#dadade"/>
<rect x="277.3" y="150.32" width="3.4" height="1.6" fill="#dadade"/>
<rect x="328.3" y="150.32" width="3.4" height="1.6" fill="#dadade"/>
<rect x="301.88" y="129.3" width="1.6" height="3.4" fill="#dadade"/>
<rect x="301.88" y="180.5" width="1.6" height="3.4" fill="#dadade"/>
<rect x="277.3" y="153.97" width="3.4" height="1.6" fill="#dadade"/>
<rect x="328.3" y="153.97" width="3.4" height="1.6" fill="#dadade"/>
<rect x="305.52" y="129.3" width="1.6" height="3.4" fill="#dadade"/>
<rect x="305.52" y="180.5" width="1.6" height="3.4" fill="#dadade"/>
<rect x="277.3" y="157.63" width="3.4" height="1.6" fill="#dadade"/>
<rect x="328.3" y="157.63" width="3.4" height="1.6" fill="#dadade"/>
<rect x="309.15" y="129.3" width="1.6" height="3.4" fill="#dadade"/>
<rect x="309.15" y="180.5" width="1.6" height="3.4" fill="#dadade"/>
<rect x="277.3" y="161.28" width="3.4" height="1.6" fill="#dadade"/>
<rect x="328.3" y="161.28" width="3.4" height="1.6" fill="#dadade"/>
<rect x="312.79" y="129.3" width="1.6" height="3.4" fill="#dadade"/>
<rect x="312.79" y="180.5" width="1.6" height="3.4" fill="#dadade"/>
<rect x="277.3" y="164.94" width="3.4" height="1.6" fill="#dadade"/>
<rect x="328.3" y="164.94" width="3.4" height="1.6" fill="#dadade"/>
<rect x="316.43" y="129.3" width="1.6" height="3.4" fill="#dadade"/>
<rect x="316.43" y="180.5" width="1.6" height="3.4" fill="#dadade"/>
<rect x="277.3" y="168.59" width="3.4" height="1.6" fill="#dadade"/>
<rect x="328.3" y="168.59" width="3.4" height="1.6" fill="#dadade"/>
<rect x="320.06" y="129.3" width="1.6" height="3.4" fill="#dadade"/>
<rect x="320.06" y="180.5" width="1.6" height="3.4" fill="#dadade"/>
<rect x="277.3" y="172.25" width="3.4" height="1.6" fill="#dadade"/>
<rect x="328.3" y="172.25" width="3.4" height="1.6" fill="#dadade"/>
<rect x="323.7" y="129.3" width="1.6" height="3.4" fill="#dadade"/>
<rect x="323.7" y="180.5" width="1.6" height="3.4" fill="#dadade"/>
<rect x="277.3" y="175.9" width="3.4" height="1.6" fill="#dadade"/>
<rect x="328.3" y="175.9" width="3.4" height="1.6" fill="#dadade"/>
<text x="292" y="143" font-family="Liberation Sans" font-size="5" fill="#8a8a90" textLength="24" lengthAdjust="spacingAndGlyphs" transform="rotate(90 292 143)">SI5342B</text>
<text x="298" y="148" font-family="Liberation Sans" font-size="5" fill="#8a8a90" textLength="14" lengthAdjust="spacingAndGlyphs" transform="rotate(90 298 148)">B-GM</text>
<text x="306" y="140" font-family="Liberation Sans" font-size="5" fill="#8a8a90" textLength="34" lengthAdjust="spacingAndGlyphs" transform="rotate(90 306 140)">1645D9AW</text>
<text x="313" y="140" font-family="Liberation Sans" font-size="5" fill="#8a8a90" textLength="10" lengthAdjust="spacingAndGlyphs" transform="rotate(90 313 140)">B93</text>
<circle cx="316" cy="162" r="5.5" fill="none" stroke="#7a7a80" stroke-width="1.1"/>
<path d="M312.5 162 L319.5 162 M316 158.5 L316 165.5" fill="none" stroke="#7a7a80" stroke-width="0.9"/>
<circle cx="322" cy="176" r="2.3" fill="#6a6a70"/>
<path d="M508 186 L503 186 L503 191" fill="none" stroke="#d0d0d0" stroke-width="1.1"/>
<path d="M552.3 186 L557.3 186 L557.3 191" fill="none" stroke="#d0d0d0" stroke-width="1.1"/>
<path d="M508 240.3 L503 240.3 L503 235.3" fill="none" stroke="#d0d0d0" stroke-width="1.1"/>
<path d="M552.3 240.3 L557.3 240.3 L557.3 235.3" fill="none" stroke="#d0d0d0" stroke-width="1.1"/>
<rect x="506.5" y="189.5" width="47.299999999999955" height="47.30000000000001" fill="#141416"/>
<rect x="507" y="190" width="46.299999999999955" height="46.30000000000001" fill="#3b3a40" rx="1"/>
<rect x="510.2" y="186.8" width="1.6" height="3.4" fill="#dadade"/>
<rect x="510.2" y="236.10000000000002" width="1.6" height="3.4" fill="#dadade"/>
<rect x="503.8" y="193.2" width="3.4" height="1.6" fill="#dadade"/>
<rect x="553.0999999999999" y="193.2" width="3.4" height="1.6" fill="#dadade"/>
<rect x="513.68" y="186.8" width="1.6" height="3.4" fill="#dadade"/>
<rect x="513.68" y="236.10000000000002" width="1.6" height="3.4" fill="#dadade"/>
<rect x="503.8" y="196.68" width="3.4" height="1.6" fill="#dadade"/>
<rect x="553.0999999999999" y="196.68" width="3.4" height="1.6" fill="#dadade"/>
<rect x="517.16" y="186.8" width="1.6" height="3.4" fill="#dadade"/>
<rect x="517.16" y="236.10000000000002" width="1.6" height="3.4" fill="#dadade"/>
<rect x="503.8" y="200.16" width="3.4" height="1.6" fill="#dadade"/>
<rect x="553.0999999999999" y="200.16" width="3.4" height="1.6" fill="#dadade"/>
<rect x="520.65" y="186.8" width="1.6" height="3.4" fill="#dadade"/>
<rect x="520.65" y="236.10000000000002" width="1.6" height="3.4" fill="#dadade"/>
<rect x="503.8" y="203.65" width="3.4" height="1.6" fill="#dadade"/>
<rect x="553.0999999999999" y="203.65" width="3.4" height="1.6" fill="#dadade"/>
<rect x="524.13" y="186.8" width="1.6" height="3.4" fill="#dadade"/>
<rect x="524.13" y="236.10000000000002" width="1.6" height="3.4" fill="#dadade"/>
<rect x="503.8" y="207.13" width="3.4" height="1.6" fill="#dadade"/>
<rect x="553.0999999999999" y="207.13" width="3.4" height="1.6" fill="#dadade"/>
<rect x="527.61" y="186.8" width="1.6" height="3.4" fill="#dadade"/>
<rect x="527.61" y="236.10000000000002" width="1.6" height="3.4" fill="#dadade"/>
<rect x="503.8" y="210.61" width="3.4" height="1.6" fill="#dadade"/>
<rect x="553.0999999999999" y="210.61" width="3.4" height="1.6" fill="#dadade"/>
<rect x="531.09" y="186.8" width="1.6" height="3.4" fill="#dadade"/>
<rect x="531.09" y="236.10000000000002" width="1.6" height="3.4" fill="#dadade"/>
<rect x="503.8" y="214.09" width="3.4" height="1.6" fill="#dadade"/>
<rect x="553.0999999999999" y="214.09" width="3.4" height="1.6" fill="#dadade"/>
<rect x="534.57" y="186.8" width="1.6" height="3.4" fill="#dadade"/>
<rect x="534.57" y="236.10000000000002" width="1.6" height="3.4" fill="#dadade"/>
<rect x="503.8" y="217.57" width="3.4" height="1.6" fill="#dadade"/>
<rect x="553.0999999999999" y="217.57" width="3.4" height="1.6" fill="#dadade"/>
<rect x="538.05" y="186.8" width="1.6" height="3.4" fill="#dadade"/>
<rect x="538.05" y="236.10000000000002" width="1.6" height="3.4" fill="#dadade"/>
<rect x="503.8" y="221.05" width="3.4" height="1.6" fill="#dadade"/>
<rect x="553.0999999999999" y="221.05" width="3.4" height="1.6" fill="#dadade"/>
<rect x="541.54" y="186.8" width="1.6" height="3.4" fill="#dadade"/>
<rect x="541.54" y="236.10000000000002" width="1.6" height="3.4" fill="#dadade"/>
<rect x="503.8" y="224.54" width="3.4" height="1.6" fill="#dadade"/>
<rect x="553.0999999999999" y="224.54" width="3.4" height="1.6" fill="#dadade"/>
<rect x="545.02" y="186.8" width="1.6" height="3.4" fill="#dadade"/>
<rect x="545.02" y="236.10000000000002" width="1.6" height="3.4" fill="#dadade"/>
<rect x="503.8" y="228.02" width="3.4" height="1.6" fill="#dadade"/>
<rect x="553.0999999999999" y="228.02" width="3.4" height="1.6" fill="#dadade"/>
<rect x="548.5" y="186.8" width="1.6" height="3.4" fill="#dadade"/>
<rect x="548.5" y="236.10000000000002" width="1.6" height="3.4" fill="#dadade"/>
<rect x="503.8" y="231.5" width="3.4" height="1.6" fill="#dadade"/>
<rect x="553.0999999999999" y="231.5" width="3.4" height="1.6" fill="#dadade"/>
<text x="514" y="196" font-family="Liberation Sans" font-size="5" fill="#8a8a90" textLength="20" lengthAdjust="spacingAndGlyphs" transform="rotate(90 514 196)">TI 56A</text>
<text x="520" y="196" font-family="Liberation Sans" font-size="5" fill="#8a8a90" textLength="18" lengthAdjust="spacingAndGlyphs" transform="rotate(90 520 196)">DP130</text>
<text x="526" y="200" font-family="Liberation Sans" font-size="5" fill="#8a8a90" textLength="8" lengthAdjust="spacingAndGlyphs" transform="rotate(90 526 200)">SS</text>
<text x="539" y="193" font-family="Liberation Sans" font-size="5" fill="#8a8a90" textLength="32" lengthAdjust="spacingAndGlyphs" transform="rotate(90 539 193)">SN75DP130</text>
<circle cx="547" cy="196.5" r="1.8" fill="#6a6a70"/>
<path d="M389.6 267.3 L420.6 267.3" fill="none" stroke="#e6e6e6" stroke-width="1"/>
<circle cx="385.8" cy="267" r="1.3" fill="none" stroke="#e6e6e6" stroke-width="0.8"/>
<rect x="392.9" y="270.3" width="24.4" height="30.3" fill="#3d3d40" rx="1"/>
<rect x="382" y="272.0" width="10.5" height="3.6" fill="#ececec" rx="1"/>
<rect x="418" y="272.0" width="11" height="3.6" fill="#ececec" rx="1"/>
<rect x="382" y="280.09999999999997" width="10.5" height="3.6" fill="#ececec" rx="1"/>
<rect x="418" y="280.09999999999997" width="11" height="3.6" fill="#ececec" rx="1"/>
<rect x="382" y="288.5" width="10.5" height="3.6" fill="#ececec" rx="1"/>
<rect x="418" y="288.5" width="11" height="3.6" fill="#ececec" rx="1"/>
<rect x="382" y="296.8" width="10.5" height="3.6" fill="#ececec" rx="1"/>
<rect x="418" y="296.8" width="11" height="3.6" fill="#ececec" rx="1"/>
<rect x="396" y="276.0" width="16" height="1.2" fill="#5a5a5e"/>
<rect x="396" y="281.5" width="16" height="1.2" fill="#5a5a5e"/>
<rect x="396" y="287.0" width="16" height="1.2" fill="#5a5a5e"/>
<rect x="396" y="292.5" width="16" height="1.2" fill="#5a5a5e"/>
<rect x="219.5" y="93.7" width="25.1" height="16.7" fill="#d4d4d4" rx="1"/>
<rect x="221.5" y="96" width="21" height="3" fill="#ededed"/>
<rect x="221.5" y="100.5" width="21" height="2" fill="#a9a9a9"/>
<rect x="221.5" y="103.5" width="21" height="5" fill="#e2e2e2"/>
<rect x="209.2" y="107.9" width="45.8" height="25.1" fill="#2b2b2f" stroke="#bdbdbd" stroke-width="0.9"/>
<rect x="211" y="133.5" width="10.4" height="15.5" fill="#6e6a66" stroke="#d6d6d6" stroke-width="0.9"/>
<rect x="213" y="136.5" width="6.4" height="9.5" fill="#d2ccc6"/>
<rect x="226.6" y="133.5" width="10.4" height="15.5" fill="#6e6a66" stroke="#d6d6d6" stroke-width="0.9"/>
<rect x="228.6" y="136.5" width="6.4" height="9.5" fill="#d2ccc6"/>
<rect x="242" y="133.5" width="10.4" height="15.5" fill="#6e6a66" stroke="#d6d6d6" stroke-width="0.9"/>
<rect x="244" y="136.5" width="6.4" height="9.5" fill="#d2ccc6"/>
<rect x="350.3" y="138.4" width="24.6" height="28" fill="#141416" stroke="#cfcfcf" stroke-width="1"/>
<rect x="354" y="141.5" width="17.5" height="22" fill="#85796e" rx="1.5"/>
<rect x="358" y="145" width="9.5" height="15" fill="#6e655d"/>
<rect x="589.6" y="32.3" width="69.3" height="37.4" fill="none" stroke="#c8c8c8" stroke-width="0.9"/>
<rect x="592.8" y="33.7" width="65.2" height="34.2" fill="#e9dece" rx="1"/>
<rect x="614" y="35.5" width="24" height="7" fill="#cdbda7"/>
<rect x="614" y="58" width="24" height="6" fill="#cdbda7"/>
<rect x="600" y="41.4" width="53" height="16.9" fill="#3e3226"/>
<rect x="602.5" y="43.5" width="48" height="12.8" fill="#e4d9ca"/>
<rect x="607.3" y="42.8" width="40.2" height="14.6" fill="#f3f0eb"/>
<rect x="600.5" y="41.4" width="4.5" height="16.9" fill="#3e3226"/>
<rect x="648" y="41.4" width="5" height="16.9" fill="#3e3226"/>
<text x="621" y="53.5" font-family="Liberation Sans" font-size="5.5" fill="#6a6058">4A</text>
<text x="579" y="30" font-family="Liberation Sans" font-size="10" fill="#e6e6e6" textLength="57.4" lengthAdjust="spacingAndGlyphs">REG_3V3</text>
<text x="657" y="30" font-family="Liberation Sans" font-size="10" fill="#e6e6e6" textLength="20.5" lengthAdjust="spacingAndGlyphs">U16</text>
<defs><linearGradient id="gL" x1="0" y1="0" x2="1" y2="0"><stop offset="0" stop-color="#c4c4c4"/><stop offset="0.25" stop-color="#dedede"/><stop offset="1" stop-color="#d6d6d6"/></linearGradient><linearGradient id="gR" x1="0" y1="0" x2="0" y2="1"><stop offset="0" stop-color="#dadada"/><stop offset="0.5" stop-color="#d0d0d0"/><stop offset="1" stop-color="#bcbcbc"/></linearGradient></defs>
<rect x="638" y="171" width="4" height="81" fill="none" stroke="#bdbdbd" stroke-width="0.8"/>
<rect x="675" y="177" width="18" height="7" fill="#3a3b44"/>
<rect x="675" y="239.5" width="18" height="7.5" fill="#3a3b44"/>
<rect x="693" y="174.4" width="17" height="10" fill="#d3d3d3" rx="2"/>
<rect x="693" y="238.5" width="17" height="12.5" fill="#cdcdcd" rx="2"/>
<rect x="675" y="183.6" width="49.5" height="55.2" fill="url(#gR)"/>
<rect x="657" y="171" width="17" height="5" fill="#d6d6d6" rx="1.5"/>
<rect x="657" y="247" width="17" height="5" fill="#d0d0d0" rx="1.5"/>
<rect x="639.5" y="173" width="35.5" height="77" fill="url(#gL)" rx="1.5"/>
<path d="M646 185 L646 240" fill="none" stroke="#555" stroke-width="1.2"/>
<rect x="645" y="186.0" width="3" height="1" fill="#666"/>
<rect x="645" y="190.5" width="3" height="1" fill="#666"/>
<rect x="645" y="195.0" width="3" height="1" fill="#666"/>
<rect x="645" y="199.5" width="3" height="1" fill="#666"/>
<rect x="645" y="204.0" width="3" height="1" fill="#666"/>
<rect x="645" y="208.5" width="3" height="1" fill="#666"/>
<rect x="645" y="213.0" width="3" height="1" fill="#666"/>
<rect x="645" y="217.5" width="3" height="1" fill="#666"/>
<rect x="645" y="222.0" width="3" height="1" fill="#666"/>
<rect x="645" y="226.5" width="3" height="1" fill="#666"/>
<rect x="645" y="231.0" width="3" height="1" fill="#666"/>
<rect x="645" y="235.5" width="3" height="1" fill="#666"/>
<rect x="685.6" y="201.3" width="34" height="19.7" fill="#4a3e32" rx="1"/>
<rect x="688.5" y="203.8" width="28.5" height="14.7" fill="#e4e4e4"/>
<rect x="708" y="203.8" width="9" height="14.7" fill="#bdbdbd"/>
<rect x="688.5" y="203.8" width="28.5" height="1.5" fill="#6a5a48"/>
<text x="670" y="227.5" font-family="Liberation Sans" font-size="7" fill="#8a8a8a" textLength="35.5" lengthAdjust="spacingAndGlyphs" transform="rotate(-90 670 227.5)">16152AA</text>
<text x="657.5" y="166" font-family="Liberation Sans" font-size="9.52" fill="#e6e6e6">CN1</text>
<rect x="333.8" y="493.5" width="128.8" height="42.1" fill="#f3f3f3" rx="7"/>
<rect x="354.8" y="503.2" width="1" height="19.5" fill="#2a2a2a"/>
<rect x="357.0" y="503.2" width="1.4" height="19.5" fill="#2a2a2a"/>
<rect x="360.9" y="503.2" width="0.8" height="19.5" fill="#2a2a2a"/>
<rect x="362.5" y="503.2" width="2" height="19.5" fill="#2a2a2a"/>
<rect x="366.3" y="503.2" width="1" height="19.5" fill="#2a2a2a"/>
<rect x="368.5" y="503.2" width="2" height="19.5" fill="#2a2a2a"/>
<rect x="373.0" y="503.2" width="2" height="19.5" fill="#2a2a2a"/>
<rect x="376.2" y="503.2" width="1" height="19.5" fill="#2a2a2a"/>
<rect x="378.4" y="503.2" width="2" height="19.5" fill="#2a2a2a"/>
<rect x="381.2" y="503.2" width="0.8" height="19.5" fill="#2a2a2a"/>
<rect x="383.2" y="503.2" width="0.8" height="19.5" fill="#2a2a2a"/>
<rect x="385.8" y="503.2" width="0.8" height="19.5" fill="#2a2a2a"/>
<rect x="388.4" y="503.2" width="2" height="19.5" fill="#2a2a2a"/>
<rect x="392.9" y="503.2" width="2" height="19.5" fill="#2a2a2a"/>
<rect x="397.4" y="503.2" width="2" height="19.5" fill="#2a2a2a"/>
<rect x="400.6" y="503.2" width="1.4" height="19.5" fill="#2a2a2a"/>
<rect x="402.8" y="503.2" width="0.8" height="19.5" fill="#2a2a2a"/>
<rect x="404.8" y="503.2" width="2" height="19.5" fill="#2a2a2a"/>
<rect x="408.0" y="503.2" width="1.4" height="19.5" fill="#2a2a2a"/>
<rect x="411.9" y="503.2" width="1.4" height="19.5" fill="#2a2a2a"/>
<rect x="415.8" y="503.2" width="2" height="19.5" fill="#2a2a2a"/>
<rect x="419.6" y="503.2" width="2" height="19.5" fill="#2a2a2a"/>
<rect x="422.8" y="503.2" width="1.4" height="19.5" fill="#2a2a2a"/>
<rect x="425.0" y="503.2" width="1.4" height="19.5" fill="#2a2a2a"/>
<rect x="427.6" y="503.2" width="1.4" height="19.5" fill="#2a2a2a"/>
<rect x="429.8" y="503.2" width="1" height="19.5" fill="#2a2a2a"/>
<rect x="432.6" y="503.2" width="1.4" height="19.5" fill="#2a2a2a"/>
<rect x="434.8" y="503.2" width="0.8" height="19.5" fill="#2a2a2a"/>
<rect x="438.1" y="503.2" width="2" height="19.5" fill="#2a2a2a"/>
<rect x="440.9" y="503.2" width="1.4" height="19.5" fill="#2a2a2a"/>
<text x="399.7" y="531" font-family="Liberation Sans" font-size="9.8" fill="#2e2e2e" text-anchor="middle" textLength="73" lengthAdjust="spacingAndGlyphs">33148-PAC005</text>
<text x="399.7" y="531" font-family="Liberation Sans" font-size="9.8" fill="none" stroke="#2e2e2e" stroke-width="0.35" text-anchor="middle" textLength="73" lengthAdjust="spacingAndGlyphs">33148-PAC005</text>
<rect x="249.2" y="515.5" width="1.3" height="5" fill="#e6e6e6"/>
<rect x="632" y="537.5" width="30.5" height="12" fill="#151412"/>
<rect x="632.8" y="538.2" width="7.5" height="11" fill="#e6c27e"/>
<rect x="634.5" y="538.2" width="1.2" height="11" fill="#b08a40"/>
<rect x="637" y="538.2" width="1.2" height="11" fill="#b08a40"/>
<rect x="640.3" y="538.2" width="7.7" height="11" fill="#9a804c"/>
<rect x="648" y="538.2" width="14" height="11" fill="#dcbf58"/>
<rect x="489" y="449" width="2.2" height="2.2" fill="#34353a"/>
<rect x="492.5" y="449" width="2.2" height="2.2" fill="#34353a"/>
<rect x="489" y="452.5" width="2.2" height="2.2" fill="#34353a"/>
<rect x="492.5" y="452.5" width="2.2" height="2.2" fill="#34353a"/>
<text x="647" y="322" font-family="Liberation Sans" font-size="17" fill="#e6e6e6" font-weight="bold" textLength="51" lengthAdjust="spacingAndGlyphs">RoHS</text>
<path d="M666.4 334.8 L695.4 364.4 M697.3 334.1 L667.7 364.4" fill="none" stroke="#e6e6e6" stroke-width="1.9"/>
<path d="M674.5 342 L689.5 342 L687.5 359 L676.5 359 Z" fill="none" stroke="#e6e6e6" stroke-width="1.6"/>
<path d="M673 340 L691 340 M679 340 L679 337.5 L685 337.5 L685 340" fill="none" stroke="#e6e6e6" stroke-width="1.6"/>
<circle cx="686" cy="361.5" r="1.6" fill="#e6e6e6"/>
<rect x="669.6" y="371.5" width="24.5" height="6.5" fill="#e6e6e6"/>
<path d="M626.2 394.8 A9.7 9.7 0 1 0 626.2 413.8" fill="none" stroke="#e6e6e6" stroke-width="4.4"/>
<path d="M645.8 394.8 A9.7 9.7 0 1 0 645.8 413.8" fill="none" stroke="#e6e6e6" stroke-width="4.4"/>
<rect x="634.5" y="402.7" width="10" height="3.2" fill="#e6e6e6"/>
<circle cx="680.4" cy="402.2" r="13.6" fill="none" stroke="#e6e6e6" stroke-width="6"/>
<path d="M661.5 402.5 L669.5 395.5 L669.5 409.5 Z" fill="#e6e6e6"/>
<path d="M700 402 L692 395 L692 409 Z" fill="#e6e6e6"/>
<path d="M663 405.5 L670 410.5" fill="none" stroke="#1d1e21" stroke-width="1.1"/>
<path d="M698 398.5 L691 393.5" fill="none" stroke="#1d1e21" stroke-width="1.1"/>
<circle cx="680.4" cy="402.2" r="6.1" fill="none" stroke="#e6e6e6" stroke-width="3.6"/>
<rect x="674" y="401" width="13" height="2.5" fill="#e6e6e6"/>
<text x="623.5" y="468.6" font-family="Liberation Mono" font-size="17.5" fill="#dedede" textLength="39.2" lengthAdjust="spacingAndGlyphs">0117</text>
<circle cx="601.9" cy="337" r="21" fill="#141517" stroke="#2c2d31" stroke-width="1.6"/>
<text x="601.9" y="337.5" font-family="Liberation Sans" font-size="14" fill="#303136" text-anchor="middle" textLength="28" lengthAdjust="spacingAndGlyphs">PTG</text>
<text x="601.9" y="351" font-family="Liberation Sans" font-size="13" fill="#303136" text-anchor="middle">3</text>
<circle cx="717.5" cy="292.0" r="1.1" fill="#3a3b41"/>
<circle cx="717.5" cy="303.5" r="1.1" fill="#3a3b41"/>
<circle cx="717.5" cy="315.0" r="1.1" fill="#3a3b41"/>
<circle cx="717.5" cy="326.5" r="1.1" fill="#3a3b41"/>
<circle cx="717.5" cy="338.0" r="1.1" fill="#3a3b41"/>
<circle cx="717.5" cy="349.5" r="1.1" fill="#3a3b41"/>
<circle cx="717.5" cy="361.0" r="1.1" fill="#3a3b41"/>
<circle cx="717.5" cy="372.5" r="1.1" fill="#3a3b41"/>
<circle cx="717.5" cy="384.0" r="1.1" fill="#3a3b41"/>
<circle cx="717.5" cy="395.5" r="1.1" fill="#3a3b41"/>
<circle cx="717.5" cy="407.0" r="1.1" fill="#3a3b41"/>
<circle cx="717.5" cy="418.5" r="1.1" fill="#3a3b41"/>
<circle cx="717.5" cy="430.0" r="1.1" fill="#3a3b41"/>
<circle cx="717.5" cy="441.5" r="1.1" fill="#3a3b41"/>
<circle cx="717.5" cy="453.0" r="1.1" fill="#3a3b41"/>
<circle cx="717.5" cy="464.5" r="1.1" fill="#3a3b41"/>
<circle cx="717.5" cy="476.0" r="1.1" fill="#3a3b41"/>
<circle cx="717.5" cy="487.5" r="1.1" fill="#3a3b41"/>
<circle cx="717.5" cy="499.0" r="1.1" fill="#3a3b41"/>
<circle cx="717.5" cy="510.5" r="1.1" fill="#3a3b41"/>
<circle cx="717.5" cy="522.0" r="1.1" fill="#3a3b41"/>
<circle cx="717.5" cy="533.5" r="1.1" fill="#3a3b41"/>
<path d="M432.50 385.80 L437.20 385.80 L435.94 389.40 L431.24 389.40 Z" fill="#e6e6e6"/>
<path d="M437.70 385.80 L442.40 385.80 L441.14 389.40 L436.44 389.40 Z" fill="#e6e6e6"/>
<path d="M442.90 385.80 L447.60 385.80 L446.34 389.40 L441.64 389.40 Z" fill="#e6e6e6"/>
<path d="M448.10 385.80 L452.80 385.80 L451.54 389.40 L446.84 389.40 Z" fill="#e6e6e6"/>
<path d="M430.98 390.15 L435.68 390.15 L434.42 393.75 L429.72 393.75 Z" fill="#e6e6e6"/>
<path d="M436.18 390.15 L440.88 390.15 L439.62 393.75 L434.92 393.75 Z" fill="#e6e6e6"/>
<path d="M441.38 390.15 L446.08 390.15 L444.82 393.75 L440.12 393.75 Z" fill="#e6e6e6"/>
<path d="M446.58 390.15 L451.28 390.15 L450.02 393.75 L445.32 393.75 Z" fill="#e6e6e6"/>
<path d="M429.45 394.50 L434.15 394.50 L432.89 398.10 L428.19 398.10 Z" fill="#e6e6e6"/>
<path d="M434.65 394.50 L439.35 394.50 L438.09 398.10 L433.39 398.10 Z" fill="#e6e6e6"/>
<path d="M439.85 394.50 L444.55 394.50 L443.29 398.10 L438.59 398.10 Z" fill="#e6e6e6"/>
<path d="M445.06 394.50 L449.75 394.50 L448.50 398.10 L443.80 398.10 Z" fill="#e6e6e6"/>
<path d="M427.93 398.85 L432.63 398.85 L431.37 402.45 L426.67 402.45 Z" fill="#e6e6e6"/>
<path d="M433.13 398.85 L437.83 398.85 L436.57 402.45 L431.87 402.45 Z" fill="#e6e6e6"/>
<path d="M438.33 398.85 L443.03 398.85 L441.77 402.45 L437.07 402.45 Z" fill="#e6e6e6"/>
<path d="M443.53 398.85 L448.23 398.85 L446.97 402.45 L442.27 402.45 Z" fill="#e6e6e6"/>
<text x="453.6" y="397.5" font-family="Liberation Sans" font-size="15" font-weight="bold" font-style="italic" fill="#e6e6e6" stroke="#e6e6e6" stroke-width="0.7" textLength="75.5" lengthAdjust="spacingAndGlyphs">LATTICE</text>
<text x="452.4" y="403.4" font-family="Liberation Sans" font-size="5.8" font-weight="bold" font-style="italic" fill="#e6e6e6" stroke="#e6e6e6" stroke-width="0.35" textLength="78" lengthAdjust="spacingAndGlyphs">SEMICONDUCTOR</text>
<circle cx="534.5" cy="402.5" r="1" fill="#e6e6e6"/>
<text x="426.8" y="417.8" font-family="Liberation Mono" font-size="11" fill="#e6e6e6" font-weight="bold" textLength="141" lengthAdjust="spacingAndGlyphs">DISPLAYPORT-VIP-INPUT_BOARD</text>
<text x="426.8" y="428" font-family="Liberation Mono" font-size="10.5" fill="#e6e6e6" font-weight="bold" textLength="26" lengthAdjust="spacingAndGlyphs">Rev A</text>
<text x="426.5" y="440.2" font-family="Liberation Mono" font-size="9.5" fill="#e6e6e6" font-weight="bold" textLength="81" lengthAdjust="spacingAndGlyphs">Copyright © 2016</text>
<text x="426.5" y="448" font-family="Liberation Mono" font-size="9.5" fill="#e6e6e6" font-weight="bold" textLength="56" lengthAdjust="spacingAndGlyphs">Made in USA</text>
<rect x="200" y="345.2" width="13" height="8.5" fill="#161618" stroke="#e6e6e6" stroke-width="0.9"/>
<rect x="201.5" y="346.7" width="10" height="5.5" fill="#2a2a2c"/>
<rect x="201.5" y="346.7" width="2.86" height="5.5" fill="#dcdcdc"/>
<rect x="208.64" y="346.7" width="2.86" height="5.5" fill="#dcdcdc"/>
<rect x="215.3" y="344.09999999999997" width="15.2" height="10.7" fill="#161618" stroke="#bdbdbd" stroke-width="0.9"/>
<rect x="217" y="346.4" width="12" height="6" fill="#e8d9c9"/>
<text x="246.8" y="352.5" font-family="Liberation Sans" font-size="10" fill="#e6e6e6" textLength="20.3" lengthAdjust="spacingAndGlyphs">LED1</text>
<path d="M231 349.4 L236 349.4 M236 346.9 L236 351.9 L240 349.4 Z M240 346.9 L240 351.9 M240 348.4 L244 346.4" fill="none" stroke="#e6e6e6" stroke-width="0.9"/>
<rect x="200" y="358.40000000000003" width="13" height="8.5" fill="#161618" stroke="#e6e6e6" stroke-width="0.9"/>
<rect x="201.5" y="359.90000000000003" width="10" height="5.5" fill="#2a2a2c"/>
<rect x="201.5" y="359.90000000000003" width="2.86" height="5.5" fill="#dcdcdc"/>
<rect x="208.64" y="359.90000000000003" width="2.86" height="5.5" fill="#dcdcdc"/>
<rect x="215.3" y="357.3" width="15.2" height="10.7" fill="#161618" stroke="#bdbdbd" stroke-width="0.9"/>
<rect x="217" y="359.6" width="12" height="6" fill="#e8d9c9"/>
<text x="246.8" y="365.70000000000005" font-family="Liberation Sans" font-size="10" fill="#e6e6e6" textLength="20.3" lengthAdjust="spacingAndGlyphs">LED2</text>
<path d="M231 362.6 L236 362.6 M236 360.1 L236 365.1 L240 362.6 Z M240 360.1 L240 365.1 M240 361.6 L244 359.6" fill="none" stroke="#e6e6e6" stroke-width="0.9"/>
<rect x="200" y="371.90000000000003" width="13" height="8.5" fill="#161618" stroke="#e6e6e6" stroke-width="0.9"/>
<rect x="201.5" y="373.40000000000003" width="10" height="5.5" fill="#2a2a2c"/>
<rect x="201.5" y="373.40000000000003" width="2.86" height="5.5" fill="#dcdcdc"/>
<rect x="208.64" y="373.40000000000003" width="2.86" height="5.5" fill="#dcdcdc"/>
<rect x="215.3" y="370.8" width="15.2" height="10.7" fill="#161618" stroke="#bdbdbd" stroke-width="0.9"/>
<rect x="217" y="373.1" width="12" height="6" fill="#e8d9c9"/>
<text x="246.8" y="379.20000000000005" font-family="Liberation Sans" font-size="10" fill="#e6e6e6" textLength="20.3" lengthAdjust="spacingAndGlyphs">LED3</text>
<path d="M231 376.1 L236 376.1 M236 373.6 L236 378.6 L240 376.1 Z M240 373.6 L240 378.6 M240 375.1 L244 373.1" fill="none" stroke="#e6e6e6" stroke-width="0.9"/>
<rect x="200" y="386.6" width="13" height="8.5" fill="#161618" stroke="#e6e6e6" stroke-width="0.9"/>
<rect x="201.5" y="388.1" width="10" height="5.5" fill="#2a2a2c"/>
<rect x="201.5" y="388.1" width="2.86" height="5.5" fill="#dcdcdc"/>
<rect x="208.64" y="388.1" width="2.86" height="5.5" fill="#dcdcdc"/>
<rect x="215.3" y="385.5" width="15.2" height="10.7" fill="#161618" stroke="#bdbdbd" stroke-width="0.9"/>
<rect x="217" y="387.8" width="12" height="6" fill="#e8d9c9"/>
<text x="246.8" y="393.90000000000003" font-family="Liberation Sans" font-size="10" fill="#e6e6e6" textLength="20.3" lengthAdjust="spacingAndGlyphs">LED4</text>
<path d="M231 390.8 L236 390.8 M236 388.3 L236 393.3 L240 390.8 Z M240 388.3 L240 393.3 M240 389.8 L244 387.8" fill="none" stroke="#e6e6e6" stroke-width="0.9"/>
<rect x="225.7" y="421" width="21" height="9" fill="#161618" stroke="#e6e6e6" stroke-width="0.9"/>
<rect x="227.2" y="422.5" width="18" height="6" fill="#8a8a8a"/>
<rect x="227.2" y="422.5" width="4.62" height="6" fill="#e0e0e0"/>
<rect x="240.57999999999998" y="422.5" width="4.62" height="6" fill="#e0e0e0"/>
<text x="247.5" y="428.4" font-family="Liberation Sans" font-size="10.64" fill="#e6e6e6" textLength="18.7" lengthAdjust="spacingAndGlyphs">R29</text>
<rect x="226" y="432.4" width="21" height="7.3" fill="#161618" stroke="#e6e6e6" stroke-width="0.9"/>
<rect x="227.5" y="433.9" width="18" height="4.3" fill="#2a2a2c"/>
<rect x="227.5" y="433.9" width="4.62" height="4.3" fill="#e4e4e4"/>
<rect x="240.88" y="433.9" width="4.62" height="4.3" fill="#e4e4e4"/>
<text x="247" y="440" font-family="Liberation Sans" font-size="10.08" fill="#e6e6e6" textLength="15" lengthAdjust="spacingAndGlyphs">C40</text>
<rect x="227.3" y="443" width="27.5" height="23.5" fill="none" stroke="#cfcfcf" stroke-width="0.9"/>
<rect x="226.5" y="447" width="5" height="8" fill="#6a6a6a" rx="1"/>
<rect x="226.5" y="457" width="5" height="8" fill="#6a6a6a" rx="1"/>
<rect x="250.5" y="447" width="5" height="8" fill="#6a6a6a" rx="1"/>
<rect x="250.5" y="457" width="5" height="8" fill="#6a6a6a" rx="1"/>
<rect x="230.5" y="446.2" width="21.9" height="17.8" fill="#c8c8c8" rx="2.5"/>
<rect x="233" y="448.5" width="17" height="13" fill="#efefef" rx="3"/>
<circle cx="220.8" cy="448.6" r="1.3" fill="none" stroke="#e6e6e6" stroke-width="0.7"/>
<text x="224" y="476.3" font-family="Liberation Sans" font-size="9.52" fill="#e6e6e6" textLength="46.2" lengthAdjust="spacingAndGlyphs">EXT RESET</text>
<text x="259.7" y="457.5" font-family="Liberation Sans" font-size="10" fill="#e6e6e6" textLength="17.8" lengthAdjust="spacingAndGlyphs">SW1</text>
<g id="anno">
<rect x="274.2" y="122.7" width="60.8" height="67.3" fill="none" stroke="#e47218" stroke-width="4.4"/>
<line x1="119" y1="122" x2="274" y2="122" stroke="#e47218" stroke-width="4" stroke-linecap="round"/>
<rect x="511.5" y="48" width="60" height="42.5" fill="none" stroke="#e47218" stroke-width="4.4"/>
<line x1="571" y1="48" x2="783" y2="48" stroke="#e47218" stroke-width="3.5" stroke-linecap="round"/>
<rect x="629.6" y="150.2" width="98.2" height="118.6" fill="none" stroke="#e47218" stroke-width="4.4"/>
<line x1="727" y1="150.3" x2="829.5" y2="150.3" stroke="#e47218" stroke-width="3.5" stroke-linecap="round"/>
<line x1="119" y1="304.6" x2="436" y2="304.6" stroke="#e47218" stroke-width="3.5" stroke-linecap="round"/>
<path d="M279.5 304.6 L279.5 455.3 L388.6 455.3 L388.6 304.6" fill="none" stroke="#e47218" stroke-width="4.4"/>
<rect x="375.1" y="262.2" width="60.7" height="42.5" fill="none" stroke="#e47218" stroke-width="4.4" rx="2.5"/>
<line x1="424" y1="304.6" x2="424" y2="591" stroke="#e47218" stroke-width="3.5" stroke-linecap="round"/>
<rect x="492.2" y="175.4" width="75.6" height="67.4" fill="none" stroke="#e47218" stroke-width="4.4"/>
<line x1="531" y1="243" x2="531" y2="591" stroke="#e47218" stroke-width="3.5" stroke-linecap="round"/>
<rect x="197.3" y="334.5" width="74.9" height="68.5" fill="none" stroke="#e47218" stroke-width="4.4"/>
<line x1="119" y1="334.3" x2="197" y2="334.3" stroke="#e47218" stroke-width="3.5" stroke-linecap="round"/>
<rect x="205.5" y="436.2" width="74.6" height="42.3" fill="none" stroke="#e47218" stroke-width="4.4"/>
<line x1="109" y1="436" x2="205" y2="436" stroke="#e47218" stroke-width="3.5" stroke-linecap="round"/>
</g>
<text x="15.8" y="116" font-family="Liberation Sans" font-size="16.3" fill="#121417" stroke="#121417" stroke-width="0.3" textLength="100.7" lengthAdjust="spacingAndGlyphs">SI5342B Clock</text>
<text x="24.7" y="138" font-family="Liberation Sans" font-size="16.3" fill="#121417" stroke="#121417" stroke-width="0.3" textLength="82.1" lengthAdjust="spacingAndGlyphs">Synthesizer</text>
<text x="9.1" y="158.3" font-family="Liberation Sans" font-size="16.3" fill="#121417" stroke="#121417" stroke-width="0.3" textLength="114.5" lengthAdjust="spacingAndGlyphs">(Not Populated)</text>
<text x="21.9" y="300.9" font-family="Liberation Sans" font-size="16.3" fill="#121417" stroke="#121417" stroke-width="0.3" textLength="96.1" lengthAdjust="spacingAndGlyphs">User Headers</text>
<text x="44.6" y="335.7" font-family="Liberation Sans" font-size="16.3" fill="#121417" stroke="#121417" stroke-width="0.3" textLength="70.9" lengthAdjust="spacingAndGlyphs">User LEDs</text>
<text x="13.8" y="427.8" font-family="Liberation Sans" font-size="16.3" fill="#121417" stroke="#121417" stroke-width="0.3" textLength="95.6" lengthAdjust="spacingAndGlyphs">System Reset</text>
<text x="818.7" y="39.2" font-family="Liberation Sans" font-size="16.3" fill="#121417" stroke="#121417" stroke-width="0.3" textLength="36.8" lengthAdjust="spacingAndGlyphs">3.3 V</text>
<text x="863.4" y="39.2" font-family="Liberation Sans" font-size="16.3" fill="#121417" stroke="#121417" stroke-width="0.3" textLength="46.1" lengthAdjust="spacingAndGlyphs">Power</text>
<text x="911" y="39.2" font-family="Liberation Sans" font-size="16.3" fill="#121417" stroke="#121417" stroke-width="0.3" textLength="15.5" lengthAdjust="spacingAndGlyphs">to</text>
<text x="934.3" y="39.2" font-family="Liberation Sans" font-size="16.3" fill="#121417" stroke="#121417" stroke-width="0.3" textLength="32.7" lengthAdjust="spacingAndGlyphs">mDP</text>
<text x="835.8" y="59.5" font-family="Liberation Sans" font-size="16.3" fill="#121417" stroke="#121417" stroke-width="0.3" textLength="115.5" lengthAdjust="spacingAndGlyphs">(Not populated)</text>
<text x="848.5" y="155.2" font-family="Liberation Sans" font-size="16.3" fill="#121417" stroke="#121417" stroke-width="0.3" textLength="118.5" lengthAdjust="spacingAndGlyphs">Mini DisplayPort</text>
<text x="870" y="177.3" font-family="Liberation Sans" font-size="16.3" fill="#121417" stroke="#121417" stroke-width="0.3" textLength="74.5" lengthAdjust="spacingAndGlyphs">Connector</text>
<text x="337.6" y="615.4" font-family="Liberation Sans" font-size="16.3" fill="#121417" stroke="#121417" stroke-width="0.3" textLength="108.4" lengthAdjust="spacingAndGlyphs">SN65MLVD200</text>
<text x="493.9" y="615.4" font-family="Liberation Sans" font-size="16.3" fill="#121417" stroke="#121417" stroke-width="0.3" textLength="83.8" lengthAdjust="spacingAndGlyphs">SN75DP130</text>
</svg></body></html>
